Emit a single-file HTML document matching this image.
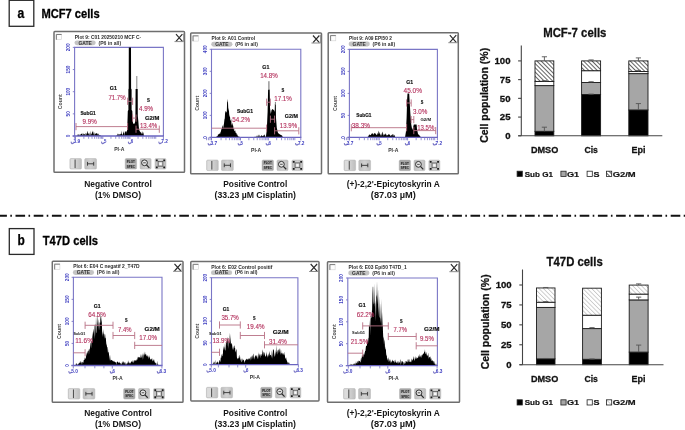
<!DOCTYPE html>
<html><head><meta charset="utf-8"><style>
html,body{margin:0;padding:0;background:#fff;}
svg{display:block;font-family:"Liberation Sans", sans-serif;filter:blur(0.3px);}
</style></head><body>
<svg width="685" height="430" viewBox="0 0 685 430">
<defs><linearGradient id="btng" x1="0" y1="0" x2="1" y2="0"><stop offset="0" stop-color="#bdbdbd"/><stop offset="0.5" stop-color="#d2d2d2"/><stop offset="1" stop-color="#bdbdbd"/></linearGradient></defs>
<rect width="685" height="430" fill="#fff"/>
<rect x="9.2" y="0.3" width="24.6" height="26.0" fill="none" stroke="#2a2a2a" stroke-width="1.3"/>
<text x="17.50" y="17.50" font-size="13.8" font-weight="bold" fill="#000" text-anchor="start" textLength="6.8" lengthAdjust="spacingAndGlyphs" stroke="#000" stroke-width="0.25">a</text>
<text x="41.40" y="17.80" font-size="12.4" font-weight="bold" fill="#000" text-anchor="start" textLength="58.2" lengthAdjust="spacingAndGlyphs" stroke="#000" stroke-width="0.3">MCF7 cells</text>
<rect x="9.3" y="228.6" width="24.7" height="25.8" fill="none" stroke="#2a2a2a" stroke-width="1.3"/>
<text x="17.40" y="245.20" font-size="13.8" font-weight="bold" fill="#000" text-anchor="start" textLength="7.3" lengthAdjust="spacingAndGlyphs" stroke="#000" stroke-width="0.25">b</text>
<text x="42.80" y="245.00" font-size="12.4" font-weight="bold" fill="#000" text-anchor="start" textLength="55.2" lengthAdjust="spacingAndGlyphs" stroke="#000" stroke-width="0.3">T47D cells</text>
<line x1="-2.7" y1="215.7" x2="690" y2="215.7" stroke="#111" stroke-width="1.9" stroke-dasharray="9.6 3.4 1.6 3.6"/>
<rect x="54.0" y="31.6" width="130.50" height="140.60" rx="0.8" fill="#fff" stroke="#6e6e6e" stroke-width="1.5"/>
<rect x="56.0" y="34.1" width="5.6" height="5.6" fill="#fdfdfd" stroke="#d0d0d0" stroke-width="0.6"/>
<path d="M56.4 39.7V34.5H61.6" fill="none" stroke="#707070" stroke-width="0.9"/>
<path d="M176.0 34.1L182.4 41.3M182.4 34.1L176.0 41.3" stroke="#2a2a2a" stroke-width="1.15"/>
<path d="M174.5 41.6H183.7V33.5" fill="none" stroke="#8a8a8a" stroke-width="1.0"/>
<text x="74.80" y="38.70" font-size="5.2" font-weight="bold" fill="#2a2a2a" text-anchor="start" textLength="66.4" lengthAdjust="spacingAndGlyphs" >Plot 9: C01 20250210 MCF C-</text>
<rect x="74.5" y="40.400000000000006" width="21.2" height="4.9" rx="2.45" fill="#c4c4c4"/>
<text x="85.10" y="44.60" font-size="4.7" font-weight="bold" fill="#333" text-anchor="middle" textLength="13.4" lengthAdjust="spacingAndGlyphs" >GATE</text>
<text x="98.50" y="44.60" font-size="4.7" font-weight="bold" fill="#333" text-anchor="start" textLength="22.6" lengthAdjust="spacingAndGlyphs" >(P6 in all)</text>
<text transform="translate(62.4,101.7) rotate(-90)" font-size="4.6" font-weight="bold" fill="#444" text-anchor="middle" textLength="15" lengthAdjust="spacingAndGlyphs">Count</text>
<path d="M74.6 136.0V47.4H163.4V136.0" fill="none" stroke="#7a76c6" stroke-width="1.1"/>
<polygon points="76.50,136.00 76.50,135.69 76.90,135.96 77.30,135.89 77.70,134.41 78.10,134.20 78.50,134.53 78.90,135.49 79.30,134.06 79.70,136.00 80.10,135.62 80.50,134.25 80.90,134.31 81.30,133.80 81.70,133.92 82.10,132.86 82.50,135.26 82.90,134.51 83.30,133.05 83.70,135.04 84.10,133.78 84.50,134.70 84.90,134.00 85.30,132.77 85.70,136.00 86.10,134.14 86.50,132.74 86.90,135.19 87.30,131.79 87.70,130.88 88.10,133.93 88.50,132.69 88.90,134.78 89.30,135.17 89.70,132.29 90.10,135.51 90.50,130.50 90.90,136.00 91.30,133.16 91.70,134.54 92.10,131.52 92.50,132.74 92.90,130.58 93.30,132.32 93.70,135.08 94.10,131.78 94.50,136.00 94.90,133.56 95.30,133.37 95.70,134.56 96.10,133.25 96.50,133.15 96.90,133.18 97.30,135.09 97.70,132.97 98.10,134.61 98.50,133.35 98.90,135.85 99.30,135.13 99.70,134.87 100.10,135.50 100.50,135.41 100.90,135.35 101.00,136.00" fill="#000"/>
<polygon points="116.00,136.00 116.00,135.91 116.40,135.39 116.80,135.40 117.20,135.03 117.60,134.26 118.00,133.16 118.40,135.25 118.80,134.04 119.20,134.56 119.60,134.12 120.00,135.29 120.40,133.58 120.80,134.16 121.20,133.90 121.60,130.38 122.00,134.50 122.40,133.90 122.80,136.00 123.20,132.31 123.60,132.68 124.00,130.56 124.40,136.00 124.80,133.03 125.20,131.98 125.60,131.03 126.00,131.73 126.40,131.08 126.80,132.30 127.20,136.00" fill="#000"/>
<polygon points="126.6,136.0 127.2,128 127.6,118 127.8,111 128.4,110 128.4,89.5 128.7,88.5 128.8,47.4 131.0,47.4 131.1,88.5 131.6,89.5 131.6,110 132.3,111 132.6,118 133,123 134,124.2 135,122.5 135.4,116 135.6,89 137.7,89 137.8,116 138.3,121 138.8,127 139.5,131 141,133 142.5,136.0" fill="#000"/>
<rect x="136.1" y="76" width="1.3" height="13" fill="#a0a0a0"/>
<polygon points="138.00,136.00 138.00,135.89 138.40,133.62 138.80,132.83 139.20,130.52 139.60,131.91 140.00,132.01 140.40,131.84 140.80,135.87 141.20,132.53 141.60,135.29 142.00,130.88 142.40,132.30 142.80,134.31 143.20,132.12 143.60,134.11 144.00,136.00" fill="#000"/>
<line x1="72.6" y1="136.0" x2="163.9" y2="136.0" stroke="#6a64c0" stroke-width="1.3"/>
<line x1="72.8" y1="47.40" x2="74.6" y2="47.40" stroke="#7a76c6" stroke-width="0.9"/>
<text transform="translate(70.19999999999999,47.40) rotate(-90)" font-size="4.6" font-weight="bold" fill="#3c3cc0" text-anchor="middle" textLength="7.800000000000001" lengthAdjust="spacingAndGlyphs">200</text>
<line x1="72.8" y1="69.55" x2="74.6" y2="69.55" stroke="#7a76c6" stroke-width="0.9"/>
<text transform="translate(70.19999999999999,69.55) rotate(-90)" font-size="4.6" font-weight="bold" fill="#3c3cc0" text-anchor="middle" textLength="7.800000000000001" lengthAdjust="spacingAndGlyphs">150</text>
<line x1="72.8" y1="91.70" x2="74.6" y2="91.70" stroke="#7a76c6" stroke-width="0.9"/>
<text transform="translate(70.19999999999999,91.70) rotate(-90)" font-size="4.6" font-weight="bold" fill="#3c3cc0" text-anchor="middle" textLength="7.800000000000001" lengthAdjust="spacingAndGlyphs">100</text>
<line x1="72.8" y1="113.85" x2="74.6" y2="113.85" stroke="#7a76c6" stroke-width="0.9"/>
<text transform="translate(70.19999999999999,113.85) rotate(-90)" font-size="4.6" font-weight="bold" fill="#3c3cc0" text-anchor="middle" textLength="5.2" lengthAdjust="spacingAndGlyphs">50</text>
<line x1="72.8" y1="136.00" x2="74.6" y2="136.00" stroke="#7a76c6" stroke-width="0.9"/>
<text transform="translate(70.19999999999999,136.00) rotate(-90)" font-size="4.6" font-weight="bold" fill="#3c3cc0" text-anchor="middle" textLength="2.6" lengthAdjust="spacingAndGlyphs">0</text>
<line x1="74.46" y1="136.0" x2="74.46" y2="138.8" stroke="#7a76c6" stroke-width="0.8"/>
<line x1="83.86" y1="136.0" x2="83.86" y2="138.8" stroke="#7a76c6" stroke-width="0.8"/>
<line x1="88.63" y1="136.0" x2="88.63" y2="138.8" stroke="#7a76c6" stroke-width="0.8"/>
<line x1="92.02" y1="136.0" x2="92.02" y2="138.8" stroke="#7a76c6" stroke-width="0.8"/>
<line x1="94.64" y1="136.0" x2="94.64" y2="138.8" stroke="#7a76c6" stroke-width="0.8"/>
<line x1="96.79" y1="136.0" x2="96.79" y2="138.8" stroke="#7a76c6" stroke-width="0.8"/>
<line x1="98.60" y1="136.0" x2="98.60" y2="138.8" stroke="#7a76c6" stroke-width="0.8"/>
<line x1="100.17" y1="136.0" x2="100.17" y2="138.8" stroke="#7a76c6" stroke-width="0.8"/>
<line x1="101.56" y1="136.0" x2="101.56" y2="138.8" stroke="#7a76c6" stroke-width="0.8"/>
<line x1="110.96" y1="136.0" x2="110.96" y2="138.8" stroke="#7a76c6" stroke-width="0.8"/>
<line x1="115.73" y1="136.0" x2="115.73" y2="138.8" stroke="#7a76c6" stroke-width="0.8"/>
<line x1="119.12" y1="136.0" x2="119.12" y2="138.8" stroke="#7a76c6" stroke-width="0.8"/>
<line x1="121.74" y1="136.0" x2="121.74" y2="138.8" stroke="#7a76c6" stroke-width="0.8"/>
<line x1="123.89" y1="136.0" x2="123.89" y2="138.8" stroke="#7a76c6" stroke-width="0.8"/>
<line x1="125.70" y1="136.0" x2="125.70" y2="138.8" stroke="#7a76c6" stroke-width="0.8"/>
<line x1="127.27" y1="136.0" x2="127.27" y2="138.8" stroke="#7a76c6" stroke-width="0.8"/>
<line x1="128.66" y1="136.0" x2="128.66" y2="138.8" stroke="#7a76c6" stroke-width="0.8"/>
<line x1="138.06" y1="136.0" x2="138.06" y2="138.8" stroke="#7a76c6" stroke-width="0.8"/>
<line x1="142.83" y1="136.0" x2="142.83" y2="138.8" stroke="#7a76c6" stroke-width="0.8"/>
<line x1="146.22" y1="136.0" x2="146.22" y2="138.8" stroke="#7a76c6" stroke-width="0.8"/>
<line x1="148.84" y1="136.0" x2="148.84" y2="138.8" stroke="#7a76c6" stroke-width="0.8"/>
<line x1="150.99" y1="136.0" x2="150.99" y2="138.8" stroke="#7a76c6" stroke-width="0.8"/>
<line x1="152.80" y1="136.0" x2="152.80" y2="138.8" stroke="#7a76c6" stroke-width="0.8"/>
<line x1="154.37" y1="136.0" x2="154.37" y2="138.8" stroke="#7a76c6" stroke-width="0.8"/>
<line x1="155.76" y1="136.0" x2="155.76" y2="138.8" stroke="#7a76c6" stroke-width="0.8"/>
<line x1="75.5" y1="136.0" x2="75.5" y2="139.0" stroke="#7a76c6" stroke-width="0.9"/>
<path d="M71.19999999999999 142.2q0.3 2.4 2.6 0.6" fill="none" stroke="#7a76c6" stroke-width="1.2" stroke-linecap="round"/>
<text x="73.50" y="143.40" font-size="4.8" font-weight="bold" fill="#3c3cc0" text-anchor="start" textLength="6.6" lengthAdjust="spacingAndGlyphs" >3.9</text>
<line x1="102.8" y1="136.0" x2="102.8" y2="139.0" stroke="#7a76c6" stroke-width="0.9"/>
<path d="M101.6 142.2q0.3 2.4 2.6 0.6" fill="none" stroke="#7a76c6" stroke-width="1.2" stroke-linecap="round"/>
<text x="103.90" y="143.40" font-size="4.8" font-weight="bold" fill="#3c3cc0" text-anchor="start" textLength="2.4" lengthAdjust="spacingAndGlyphs" >5</text>
<line x1="129.9" y1="136.0" x2="129.9" y2="139.0" stroke="#7a76c6" stroke-width="0.9"/>
<path d="M128.4 142.2q0.3 2.4 2.6 0.6" fill="none" stroke="#7a76c6" stroke-width="1.2" stroke-linecap="round"/>
<text x="130.70" y="143.40" font-size="4.8" font-weight="bold" fill="#3c3cc0" text-anchor="start" textLength="2.4" lengthAdjust="spacingAndGlyphs" >6</text>
<line x1="163.4" y1="136.0" x2="163.4" y2="139.0" stroke="#7a76c6" stroke-width="0.9"/>
<path d="M158.9 142.2q0.3 2.4 2.6 0.6" fill="none" stroke="#7a76c6" stroke-width="1.2" stroke-linecap="round"/>
<text x="161.20" y="143.40" font-size="4.8" font-weight="bold" fill="#3c3cc0" text-anchor="start" textLength="6.6" lengthAdjust="spacingAndGlyphs" >7.2</text>
<text x="119.30" y="150.60" font-size="4.6" font-weight="bold" fill="#333" text-anchor="middle" textLength="10.2" lengthAdjust="spacingAndGlyphs" >PI-A</text>
<line x1="76" y1="126.6" x2="127.6" y2="126.6" stroke="#b87084" stroke-width="0.9"/>
<line x1="76" y1="123.0" x2="76" y2="130.2" stroke="#b87084" stroke-width="0.9"/>
<line x1="127.6" y1="123.0" x2="127.6" y2="130.2" stroke="#b87084" stroke-width="0.9"/>
<line x1="127.6" y1="101.3" x2="132.6" y2="101.3" stroke="#b87084" stroke-width="0.9"/>
<line x1="127.6" y1="97.7" x2="127.6" y2="104.89999999999999" stroke="#b87084" stroke-width="0.9"/>
<line x1="132.6" y1="97.7" x2="132.6" y2="104.89999999999999" stroke="#b87084" stroke-width="0.9"/>
<line x1="132.6" y1="118.1" x2="136.0" y2="118.1" stroke="#b87084" stroke-width="0.9"/>
<line x1="132.6" y1="114.5" x2="132.6" y2="121.69999999999999" stroke="#b87084" stroke-width="0.9"/>
<line x1="136.0" y1="114.5" x2="136.0" y2="121.69999999999999" stroke="#b87084" stroke-width="0.9"/>
<line x1="136.0" y1="129.2" x2="159.3" y2="129.2" stroke="#b87084" stroke-width="0.9"/>
<line x1="136.0" y1="125.6" x2="136.0" y2="132.79999999999998" stroke="#b87084" stroke-width="0.9"/>
<line x1="159.3" y1="125.6" x2="159.3" y2="132.79999999999998" stroke="#b87084" stroke-width="0.9"/>
<text x="80.40" y="115.00" font-size="5.0" font-weight="bold" fill="#111" text-anchor="start" textLength="15.4" lengthAdjust="spacingAndGlyphs" stroke="#111" stroke-width="0.15">SubG1</text>
<text x="82.60" y="124.00" font-size="6.4" font-weight="normal" fill="#b3305c" text-anchor="start" textLength="14.2" lengthAdjust="spacingAndGlyphs" stroke="#b3305c" stroke-width="0.12">9.9%</text>
<text x="109.80" y="89.90" font-size="5.0" font-weight="bold" fill="#111" text-anchor="start" textLength="7.1" lengthAdjust="spacingAndGlyphs" stroke="#111" stroke-width="0.15">G1</text>
<text x="108.40" y="99.60" font-size="6.4" font-weight="normal" fill="#b3305c" text-anchor="start" textLength="17.3" lengthAdjust="spacingAndGlyphs" stroke="#b3305c" stroke-width="0.12">71.7%</text>
<text x="147.10" y="101.80" font-size="5.0" font-weight="bold" fill="#111" text-anchor="start" textLength="2.9" lengthAdjust="spacingAndGlyphs" stroke="#111" stroke-width="0.15">S</text>
<text x="139.00" y="110.80" font-size="6.4" font-weight="normal" fill="#b3305c" text-anchor="start" textLength="14.1" lengthAdjust="spacingAndGlyphs" stroke="#b3305c" stroke-width="0.12">4.9%</text>
<text x="145.00" y="119.60" font-size="5.0" font-weight="bold" fill="#111" text-anchor="start" textLength="14.3" lengthAdjust="spacingAndGlyphs" stroke="#111" stroke-width="0.15">G2/M</text>
<text x="139.90" y="128.00" font-size="6.4" font-weight="normal" fill="#b3305c" text-anchor="start" textLength="17.4" lengthAdjust="spacingAndGlyphs" stroke="#b3305c" stroke-width="0.12">13.4%</text>
<rect x="69.9" y="158.5" width="11.6" height="10.6" rx="1.2" fill="url(#btng)" stroke="#b4b4b4" stroke-width="0.5"/><rect x="70.5" y="159.1" width="4.2" height="9.4" fill="#dcdcdc"/><line x1="75.10000000000001" y1="159.5" x2="75.10000000000001" y2="168.1" stroke="#3a3a3a" stroke-width="0.9"/>
<rect x="84.7" y="158.5" width="11.8" height="10.6" rx="1.2" fill="url(#btng)" stroke="#b4b4b4" stroke-width="0.5"/><path d="M87.5 161.9v3.8M93.7 161.9v3.8M87.5 163.8H93.7" stroke="#333" stroke-width="0.9"/>
<rect x="125.2" y="158.5" width="11.4" height="10.6" rx="1.2" fill="#a4a4a4" stroke="#b4b4b4" stroke-width="0.5"/><text x="130.90" y="163.00" font-size="3.6" font-weight="bold" fill="#1a1a1a" text-anchor="middle" textLength="8.2" lengthAdjust="spacingAndGlyphs" >PLOT</text><rect x="126.2" y="163.5" width="9.4" height="0.9" fill="#d8d8d8"/><text x="130.90" y="167.50" font-size="3.6" font-weight="bold" fill="#1a1a1a" text-anchor="middle" textLength="8.2" lengthAdjust="spacingAndGlyphs" >SPEC</text>
<rect x="140.1" y="158.5" width="11.0" height="10.6" rx="1.2" fill="url(#btng)" stroke="#b4b4b4" stroke-width="0.5"/><circle cx="144.5" cy="162.8" r="2.9" fill="#e6e6e6" stroke="#2a2a2a" stroke-width="0.95"/><line x1="146.5" y1="164.9" x2="149.29999999999998" y2="167.8" stroke="#2a2a2a" stroke-width="1.2"/><line x1="143.2" y1="162.8" x2="145.79999999999998" y2="162.8" stroke="#2a2a2a" stroke-width="0.8"/>
<rect x="155.0" y="158.5" width="11.0" height="10.6" rx="1.2" fill="url(#btng)" stroke="#b4b4b4" stroke-width="0.5"/><rect x="158.1" y="161.4" width="4.8" height="4.8" fill="#c8c8c8" stroke="#4a4a4a" stroke-width="0.7"/><rect x="159.3" y="162.6" width="2.4000000000000004" height="2.4000000000000004" fill="#fafafa"/><path d="M155.9 159.4h1.8v1.8h-1.8zM163.3 159.4h1.8v1.8h-1.8zM155.9 166.4h1.8v1.8h-1.8zM163.3 166.4h1.8v1.8h-1.8z" fill="#1a1a1a"/>
<rect x="190.7" y="33.0" width="130.80" height="140.70" rx="0.8" fill="#fff" stroke="#6e6e6e" stroke-width="1.5"/>
<rect x="192.70459770114942" y="35.50177809388336" width="5.6" height="5.6" fill="#fdfdfd" stroke="#d0d0d0" stroke-width="0.6"/>
<path d="M193.10459770114943 41.10177809388336V35.90177809388336H198.30459770114942" fill="none" stroke="#707070" stroke-width="0.9"/>
<path d="M312.97701149425285 35.5L319.3770114942528 42.699999999999996M319.3770114942528 35.5L312.97701149425285 42.699999999999996" stroke="#2a2a2a" stroke-width="1.15"/>
<path d="M311.47701149425285 43.0H320.67701149425284V34.9" fill="none" stroke="#8a8a8a" stroke-width="1.0"/>
<text x="211.55" y="40.11" font-size="5.2" font-weight="bold" fill="#2a2a2a" text-anchor="start" textLength="43.5" lengthAdjust="spacingAndGlyphs" >Plot 9: A01 Control</text>
<rect x="211.2471264367816" y="41.806258890469415" width="21.2" height="4.9" rx="2.45" fill="#c4c4c4"/>
<text x="221.85" y="46.01" font-size="4.7" font-weight="bold" fill="#333" text-anchor="middle" textLength="13.4" lengthAdjust="spacingAndGlyphs" >GATE</text>
<text x="235.25" y="46.01" font-size="4.7" font-weight="bold" fill="#333" text-anchor="start" textLength="22.6" lengthAdjust="spacingAndGlyphs" >(P6 in all)</text>
<text transform="translate(199.11931034482757,103.35) rotate(-90)" font-size="4.6" font-weight="bold" fill="#444" text-anchor="middle" textLength="15" lengthAdjust="spacingAndGlyphs">Count</text>
<path d="M211.5 137.4V49.3H300.8V137.4" fill="none" stroke="#7a76c6" stroke-width="1.1"/>
<polygon points="216.00,137.40 216.00,137.40 216.40,136.11 216.80,137.07 217.20,135.93 217.60,136.37 218.00,134.24 218.40,134.78 218.80,134.00 219.20,133.87 219.60,133.13 220.00,134.28 220.40,132.59 220.80,131.64 221.20,130.02 221.60,128.81 222.00,128.32 222.40,125.09 222.80,126.46 223.20,128.08 223.60,125.48 224.00,123.47 224.40,119.86 224.80,118.34 225.20,111.03 225.60,111.23 226.00,112.89 226.40,111.24 226.80,112.42 227.20,98.76 227.60,101.61 228.00,102.44 228.40,111.36 228.80,107.87 229.20,114.23 229.60,116.61 230.00,116.73 230.40,120.82 230.80,120.60 231.20,118.82 231.60,125.81 232.00,123.42 232.40,123.33 232.80,125.19 233.20,125.72 233.60,129.78 234.00,127.96 234.40,130.97 234.80,131.34 235.20,130.21 235.60,132.86 236.00,132.76 236.40,133.10 236.80,134.76 237.20,134.27 237.60,135.55 238.00,136.24 238.40,136.07 238.80,137.32 239.20,136.20 239.50,137.40" fill="#000"/>
<polygon points="254.00,137.40 254.00,137.40 254.40,136.96 254.80,136.74 255.20,136.74 255.60,136.67 256.00,137.14 256.40,135.21 256.80,137.40 257.20,136.22 257.60,137.08 258.00,134.56 258.40,137.40 258.80,134.65 259.20,134.63 259.60,136.36 260.00,137.40 260.40,135.68 260.80,136.43 261.20,135.38 261.60,135.32 262.00,135.53 262.40,136.18 262.80,136.08 263.20,135.55 263.60,135.37 264.00,136.26 264.40,134.34 264.80,134.98 265.20,135.91 265.60,137.15 266.00,136.96 266.00,137.40" fill="#000"/>
<polygon points="265.8,137.4 266.8,130 267.6,112 268.1,89.6 269.7,89.6 270.0,108 270.8,114 271.6,110 272.6,109 274.2,110.5 274.7,112 274.9,104 275.8,104 276.0,118 276.8,128 278,133 280,134.5 282,135.6 283,137.4" fill="#000"/>
<rect x="268.3" y="81.2" width="1.2" height="8.6" fill="#808080"/>
<rect x="274.9" y="101.9" width="1.0" height="3" fill="#808080"/>
<line x1="209.5" y1="137.4" x2="301.3" y2="137.4" stroke="#6a64c0" stroke-width="1.3"/>
<line x1="209.7" y1="49.30" x2="211.5" y2="49.30" stroke="#7a76c6" stroke-width="0.9"/>
<text transform="translate(207.1,49.30) rotate(-90)" font-size="4.6" font-weight="bold" fill="#3c3cc0" text-anchor="middle" textLength="7.800000000000001" lengthAdjust="spacingAndGlyphs">400</text>
<line x1="209.7" y1="71.33" x2="211.5" y2="71.33" stroke="#7a76c6" stroke-width="0.9"/>
<text transform="translate(207.1,71.33) rotate(-90)" font-size="4.6" font-weight="bold" fill="#3c3cc0" text-anchor="middle" textLength="7.800000000000001" lengthAdjust="spacingAndGlyphs">300</text>
<line x1="209.7" y1="93.35" x2="211.5" y2="93.35" stroke="#7a76c6" stroke-width="0.9"/>
<text transform="translate(207.1,93.35) rotate(-90)" font-size="4.6" font-weight="bold" fill="#3c3cc0" text-anchor="middle" textLength="7.800000000000001" lengthAdjust="spacingAndGlyphs">200</text>
<line x1="209.7" y1="115.38" x2="211.5" y2="115.38" stroke="#7a76c6" stroke-width="0.9"/>
<text transform="translate(207.1,115.38) rotate(-90)" font-size="4.6" font-weight="bold" fill="#3c3cc0" text-anchor="middle" textLength="7.800000000000001" lengthAdjust="spacingAndGlyphs">100</text>
<line x1="209.7" y1="137.40" x2="211.5" y2="137.40" stroke="#7a76c6" stroke-width="0.9"/>
<text transform="translate(207.1,137.40) rotate(-90)" font-size="4.6" font-weight="bold" fill="#3c3cc0" text-anchor="middle" textLength="2.6" lengthAdjust="spacingAndGlyphs">0</text>
<line x1="206.53" y1="137.4" x2="206.53" y2="140.20000000000002" stroke="#7a76c6" stroke-width="0.8"/>
<line x1="208.39" y1="137.4" x2="208.39" y2="140.20000000000002" stroke="#7a76c6" stroke-width="0.8"/>
<line x1="210.01" y1="137.4" x2="210.01" y2="140.20000000000002" stroke="#7a76c6" stroke-width="0.8"/>
<line x1="211.43" y1="137.4" x2="211.43" y2="140.20000000000002" stroke="#7a76c6" stroke-width="0.8"/>
<line x1="221.07" y1="137.4" x2="221.07" y2="140.20000000000002" stroke="#7a76c6" stroke-width="0.8"/>
<line x1="225.96" y1="137.4" x2="225.96" y2="140.20000000000002" stroke="#7a76c6" stroke-width="0.8"/>
<line x1="229.44" y1="137.4" x2="229.44" y2="140.20000000000002" stroke="#7a76c6" stroke-width="0.8"/>
<line x1="232.13" y1="137.4" x2="232.13" y2="140.20000000000002" stroke="#7a76c6" stroke-width="0.8"/>
<line x1="234.33" y1="137.4" x2="234.33" y2="140.20000000000002" stroke="#7a76c6" stroke-width="0.8"/>
<line x1="236.19" y1="137.4" x2="236.19" y2="140.20000000000002" stroke="#7a76c6" stroke-width="0.8"/>
<line x1="237.81" y1="137.4" x2="237.81" y2="140.20000000000002" stroke="#7a76c6" stroke-width="0.8"/>
<line x1="239.23" y1="137.4" x2="239.23" y2="140.20000000000002" stroke="#7a76c6" stroke-width="0.8"/>
<line x1="248.87" y1="137.4" x2="248.87" y2="140.20000000000002" stroke="#7a76c6" stroke-width="0.8"/>
<line x1="253.76" y1="137.4" x2="253.76" y2="140.20000000000002" stroke="#7a76c6" stroke-width="0.8"/>
<line x1="257.24" y1="137.4" x2="257.24" y2="140.20000000000002" stroke="#7a76c6" stroke-width="0.8"/>
<line x1="259.93" y1="137.4" x2="259.93" y2="140.20000000000002" stroke="#7a76c6" stroke-width="0.8"/>
<line x1="262.13" y1="137.4" x2="262.13" y2="140.20000000000002" stroke="#7a76c6" stroke-width="0.8"/>
<line x1="263.99" y1="137.4" x2="263.99" y2="140.20000000000002" stroke="#7a76c6" stroke-width="0.8"/>
<line x1="265.61" y1="137.4" x2="265.61" y2="140.20000000000002" stroke="#7a76c6" stroke-width="0.8"/>
<line x1="267.03" y1="137.4" x2="267.03" y2="140.20000000000002" stroke="#7a76c6" stroke-width="0.8"/>
<line x1="276.67" y1="137.4" x2="276.67" y2="140.20000000000002" stroke="#7a76c6" stroke-width="0.8"/>
<line x1="281.56" y1="137.4" x2="281.56" y2="140.20000000000002" stroke="#7a76c6" stroke-width="0.8"/>
<line x1="285.04" y1="137.4" x2="285.04" y2="140.20000000000002" stroke="#7a76c6" stroke-width="0.8"/>
<line x1="287.73" y1="137.4" x2="287.73" y2="140.20000000000002" stroke="#7a76c6" stroke-width="0.8"/>
<line x1="289.93" y1="137.4" x2="289.93" y2="140.20000000000002" stroke="#7a76c6" stroke-width="0.8"/>
<line x1="291.79" y1="137.4" x2="291.79" y2="140.20000000000002" stroke="#7a76c6" stroke-width="0.8"/>
<line x1="293.41" y1="137.4" x2="293.41" y2="140.20000000000002" stroke="#7a76c6" stroke-width="0.8"/>
<line x1="294.83" y1="137.4" x2="294.83" y2="140.20000000000002" stroke="#7a76c6" stroke-width="0.8"/>
<line x1="211.5" y1="137.4" x2="211.5" y2="140.4" stroke="#7a76c6" stroke-width="0.9"/>
<path d="M208.2 143.6q0.3 2.4 2.6 0.6" fill="none" stroke="#7a76c6" stroke-width="1.2" stroke-linecap="round"/>
<text x="210.50" y="144.80" font-size="4.8" font-weight="bold" fill="#3c3cc0" text-anchor="start" textLength="6.6" lengthAdjust="spacingAndGlyphs" >3.7</text>
<line x1="240.5" y1="137.4" x2="240.5" y2="140.4" stroke="#7a76c6" stroke-width="0.9"/>
<path d="M238.2 143.6q0.3 2.4 2.6 0.6" fill="none" stroke="#7a76c6" stroke-width="1.2" stroke-linecap="round"/>
<text x="240.50" y="144.80" font-size="4.8" font-weight="bold" fill="#3c3cc0" text-anchor="start" textLength="2.4" lengthAdjust="spacingAndGlyphs" >5</text>
<line x1="268.3" y1="137.4" x2="268.3" y2="140.4" stroke="#7a76c6" stroke-width="0.9"/>
<path d="M266.20000000000005 143.6q0.3 2.4 2.6 0.6" fill="none" stroke="#7a76c6" stroke-width="1.2" stroke-linecap="round"/>
<text x="268.50" y="144.80" font-size="4.8" font-weight="bold" fill="#3c3cc0" text-anchor="start" textLength="2.4" lengthAdjust="spacingAndGlyphs" >6</text>
<line x1="300.8" y1="137.4" x2="300.8" y2="140.4" stroke="#7a76c6" stroke-width="0.9"/>
<path d="M295.6 143.6q0.3 2.4 2.6 0.6" fill="none" stroke="#7a76c6" stroke-width="1.2" stroke-linecap="round"/>
<text x="297.90" y="144.80" font-size="4.8" font-weight="bold" fill="#3c3cc0" text-anchor="start" textLength="6.6" lengthAdjust="spacingAndGlyphs" >7.2</text>
<text x="256.15" y="152.00" font-size="4.6" font-weight="bold" fill="#333" text-anchor="middle" textLength="10.2" lengthAdjust="spacingAndGlyphs" >PI-A</text>
<line x1="211.5" y1="128.2" x2="266.6" y2="128.2" stroke="#b87084" stroke-width="0.9"/>
<line x1="266.6" y1="124.6" x2="266.6" y2="131.79999999999998" stroke="#b87084" stroke-width="0.9"/>
<line x1="266.6" y1="102.2" x2="270.4" y2="102.2" stroke="#b87084" stroke-width="0.9"/>
<line x1="266.6" y1="98.60000000000001" x2="266.6" y2="105.8" stroke="#b87084" stroke-width="0.9"/>
<line x1="270.4" y1="98.60000000000001" x2="270.4" y2="105.8" stroke="#b87084" stroke-width="0.9"/>
<line x1="270.4" y1="119.2" x2="274.6" y2="119.2" stroke="#b87084" stroke-width="0.9"/>
<line x1="270.4" y1="115.60000000000001" x2="270.4" y2="122.8" stroke="#b87084" stroke-width="0.9"/>
<line x1="274.6" y1="115.60000000000001" x2="274.6" y2="122.8" stroke="#b87084" stroke-width="0.9"/>
<line x1="274.6" y1="130.8" x2="298.8" y2="130.8" stroke="#b87084" stroke-width="0.9"/>
<line x1="274.6" y1="127.20000000000002" x2="274.6" y2="134.4" stroke="#b87084" stroke-width="0.9"/>
<line x1="298.8" y1="127.20000000000002" x2="298.8" y2="134.4" stroke="#b87084" stroke-width="0.9"/>
<text x="237.00" y="112.60" font-size="5.0" font-weight="bold" fill="#111" text-anchor="start" textLength="16" lengthAdjust="spacingAndGlyphs" stroke="#111" stroke-width="0.15">SubG1</text>
<text x="232.20" y="122.20" font-size="6.4" font-weight="normal" fill="#b3305c" text-anchor="start" textLength="17.8" lengthAdjust="spacingAndGlyphs" stroke="#b3305c" stroke-width="0.12">54.2%</text>
<text x="262.30" y="69.20" font-size="5.0" font-weight="bold" fill="#111" text-anchor="start" textLength="7" lengthAdjust="spacingAndGlyphs" stroke="#111" stroke-width="0.15">G1</text>
<text x="260.20" y="78.30" font-size="6.4" font-weight="normal" fill="#b3305c" text-anchor="start" textLength="17.5" lengthAdjust="spacingAndGlyphs" stroke="#b3305c" stroke-width="0.12">14.8%</text>
<text x="281.50" y="91.80" font-size="5.0" font-weight="bold" fill="#111" text-anchor="start" textLength="2.8" lengthAdjust="spacingAndGlyphs" stroke="#111" stroke-width="0.15">S</text>
<text x="274.20" y="101.00" font-size="6.4" font-weight="normal" fill="#b3305c" text-anchor="start" textLength="17.7" lengthAdjust="spacingAndGlyphs" stroke="#b3305c" stroke-width="0.12">17.1%</text>
<text x="284.80" y="117.80" font-size="5.0" font-weight="bold" fill="#111" text-anchor="start" textLength="13.1" lengthAdjust="spacingAndGlyphs" stroke="#111" stroke-width="0.15">G2/M</text>
<text x="279.80" y="127.70" font-size="6.4" font-weight="normal" fill="#b3305c" text-anchor="start" textLength="17.3" lengthAdjust="spacingAndGlyphs" stroke="#b3305c" stroke-width="0.12">13.9%</text>
<rect x="206.63655172413792" y="159.99025604551917" width="11.626666666666669" height="10.6" rx="1.2" fill="url(#btng)" stroke="#b4b4b4" stroke-width="0.5"/><rect x="207.2365517241379" y="160.59025604551917" width="4.2" height="9.4" fill="#dcdcdc"/><line x1="211.8365517241379" y1="160.99025604551917" x2="211.8365517241379" y2="169.59025604551917" stroke="#3a3a3a" stroke-width="0.9"/>
<rect x="221.47057471264367" y="159.99025604551917" width="11.827126436781612" height="10.6" rx="1.2" fill="url(#btng)" stroke="#b4b4b4" stroke-width="0.5"/><path d="M224.27057471264368 163.39025604551918v3.8M230.47057471264367 163.39025604551918v3.8M224.27057471264368 165.2902560455192H230.47057471264367" stroke="#333" stroke-width="0.9"/>
<rect x="262.06367816091955" y="159.99025604551917" width="11.426206896551726" height="10.6" rx="1.2" fill="#a4a4a4" stroke="#b4b4b4" stroke-width="0.5"/><text x="267.78" y="164.49" font-size="3.6" font-weight="bold" fill="#1a1a1a" text-anchor="middle" textLength="8.2" lengthAdjust="spacingAndGlyphs" >PLOT</text><rect x="263.06367816091955" y="164.99025604551917" width="9.426206896551726" height="0.9" fill="#d8d8d8"/><text x="267.78" y="168.99" font-size="3.6" font-weight="bold" fill="#1a1a1a" text-anchor="middle" textLength="8.2" lengthAdjust="spacingAndGlyphs" >SPEC</text>
<rect x="276.99793103448275" y="159.99025604551917" width="11.02528735632184" height="10.6" rx="1.2" fill="url(#btng)" stroke="#b4b4b4" stroke-width="0.5"/><circle cx="281.3979310344827" cy="164.2902560455192" r="2.9" fill="#e6e6e6" stroke="#2a2a2a" stroke-width="0.95"/><line x1="283.3979310344827" y1="166.39025604551918" x2="286.19793103448274" y2="169.2902560455192" stroke="#2a2a2a" stroke-width="1.2"/><line x1="280.09793103448277" y1="164.2902560455192" x2="282.69793103448274" y2="164.2902560455192" stroke="#2a2a2a" stroke-width="0.8"/>
<rect x="291.932183908046" y="159.99025604551917" width="11.02528735632184" height="10.6" rx="1.2" fill="url(#btng)" stroke="#b4b4b4" stroke-width="0.5"/><rect x="295.032183908046" y="162.89025604551918" width="4.82528735632184" height="4.8" fill="#c8c8c8" stroke="#4a4a4a" stroke-width="0.7"/><rect x="296.232183908046" y="164.09025604551917" width="2.4252873563218404" height="2.4000000000000004" fill="#fafafa"/><path d="M292.832183908046 160.89025604551918h1.8v1.8h-1.8zM300.25747126436784 160.89025604551918h1.8v1.8h-1.8zM292.832183908046 167.89025604551918h1.8v1.8h-1.8zM300.25747126436784 167.89025604551918h1.8v1.8h-1.8z" fill="#1a1a1a"/>
<rect x="328.2" y="32.7" width="130.10" height="141.10" rx="0.8" fill="#fff" stroke="#6e6e6e" stroke-width="1.5"/>
<rect x="330.19386973180076" y="35.20889046941679" width="5.6" height="5.6" fill="#fdfdfd" stroke="#d0d0d0" stroke-width="0.6"/>
<path d="M330.59386973180074 40.80889046941679V35.608890469416785H335.7938697318008" fill="none" stroke="#707070" stroke-width="0.9"/>
<path d="M449.83065134099616 35.2L456.23065134099613 42.4M456.23065134099613 35.2L449.83065134099616 42.4" stroke="#2a2a2a" stroke-width="1.15"/>
<path d="M448.33065134099616 42.7H457.53065134099614V34.6" fill="none" stroke="#8a8a8a" stroke-width="1.0"/>
<text x="348.94" y="39.83" font-size="5.2" font-weight="bold" fill="#2a2a2a" text-anchor="start" textLength="43.0" lengthAdjust="spacingAndGlyphs" >Plot 9: A09 EPI50 2</text>
<rect x="348.6371647509578" y="41.53129445234709" width="21.2" height="4.9" rx="2.45" fill="#c4c4c4"/>
<text x="359.24" y="45.73" font-size="4.7" font-weight="bold" fill="#333" text-anchor="middle" textLength="13.4" lengthAdjust="spacingAndGlyphs" >GATE</text>
<text x="372.64" y="45.73" font-size="4.7" font-weight="bold" fill="#333" text-anchor="start" textLength="22.6" lengthAdjust="spacingAndGlyphs" >(P6 in all)</text>
<text transform="translate(336.5742528735632,103.4) rotate(-90)" font-size="4.6" font-weight="bold" fill="#444" text-anchor="middle" textLength="15" lengthAdjust="spacingAndGlyphs">Count</text>
<path d="M349.4 137.4V49.4H437.4V137.4" fill="none" stroke="#7a76c6" stroke-width="1.1"/>
<polygon points="367.00,137.40 367.00,137.40 367.40,136.39 367.80,137.40 368.20,136.40 368.60,135.84 369.00,134.73 369.40,135.35 369.80,134.04 370.20,135.22 370.60,134.89 371.00,134.68 371.40,133.93 371.80,133.58 372.20,133.61 372.60,133.10 373.00,134.27 373.40,133.41 373.80,135.25 374.20,133.25 374.60,133.29 375.00,132.86 375.40,133.68 375.80,133.76 376.20,135.22 376.60,134.37 377.00,135.04 377.40,133.96 377.80,132.65 378.20,134.21 378.60,130.49 379.00,132.00 379.40,134.23 379.80,131.70 380.20,135.63 380.60,133.43 381.00,136.12 381.40,134.92 381.80,133.40 382.20,132.55 382.60,131.39 383.00,135.41 383.40,135.44 383.80,133.87 384.20,134.09 384.60,135.19 385.00,134.27 385.40,134.39 385.80,133.08 386.20,134.46 386.60,135.65 387.00,135.12 387.40,135.59 387.80,134.91 388.20,134.82 388.60,133.82 389.00,135.06 389.40,134.83 389.80,134.03 390.20,136.07 390.60,135.57 391.00,135.86 391.40,135.37 391.80,135.01 392.20,133.89 392.60,134.57 393.00,135.92 393.40,135.79 393.80,134.06 394.20,134.98 394.60,135.38 395.00,136.44 395.40,137.32 395.80,137.40 396.00,137.40" fill="#000"/>
<polygon points="405.0,137.4 405.9,132 406.6,118 407.1,100 407.5,93.6 409.2,93.6 409.8,104 410.4,114 411.2,124 412.2,130 413.2,127 413.8,124.6 416.6,124.6 417,129 418,134 420,136 421,137.4" fill="#000"/>
<line x1="347.4" y1="137.4" x2="437.9" y2="137.4" stroke="#6a64c0" stroke-width="1.3"/>
<line x1="347.59999999999997" y1="49.40" x2="349.4" y2="49.40" stroke="#7a76c6" stroke-width="0.9"/>
<text transform="translate(345.0,49.40) rotate(-90)" font-size="4.6" font-weight="bold" fill="#3c3cc0" text-anchor="middle" textLength="7.800000000000001" lengthAdjust="spacingAndGlyphs">200</text>
<line x1="347.59999999999997" y1="71.40" x2="349.4" y2="71.40" stroke="#7a76c6" stroke-width="0.9"/>
<text transform="translate(345.0,71.40) rotate(-90)" font-size="4.6" font-weight="bold" fill="#3c3cc0" text-anchor="middle" textLength="7.800000000000001" lengthAdjust="spacingAndGlyphs">150</text>
<line x1="347.59999999999997" y1="93.40" x2="349.4" y2="93.40" stroke="#7a76c6" stroke-width="0.9"/>
<text transform="translate(345.0,93.40) rotate(-90)" font-size="4.6" font-weight="bold" fill="#3c3cc0" text-anchor="middle" textLength="7.800000000000001" lengthAdjust="spacingAndGlyphs">100</text>
<line x1="347.59999999999997" y1="115.40" x2="349.4" y2="115.40" stroke="#7a76c6" stroke-width="0.9"/>
<text transform="translate(345.0,115.40) rotate(-90)" font-size="4.6" font-weight="bold" fill="#3c3cc0" text-anchor="middle" textLength="5.2" lengthAdjust="spacingAndGlyphs">50</text>
<line x1="347.59999999999997" y1="137.40" x2="349.4" y2="137.40" stroke="#7a76c6" stroke-width="0.9"/>
<text transform="translate(345.0,137.40) rotate(-90)" font-size="4.6" font-weight="bold" fill="#3c3cc0" text-anchor="middle" textLength="2.6" lengthAdjust="spacingAndGlyphs">0</text>
<line x1="344.50" y1="137.4" x2="344.50" y2="140.20000000000002" stroke="#7a76c6" stroke-width="0.8"/>
<line x1="346.40" y1="137.4" x2="346.40" y2="140.20000000000002" stroke="#7a76c6" stroke-width="0.8"/>
<line x1="348.05" y1="137.4" x2="348.05" y2="140.20000000000002" stroke="#7a76c6" stroke-width="0.8"/>
<line x1="349.50" y1="137.4" x2="349.50" y2="140.20000000000002" stroke="#7a76c6" stroke-width="0.8"/>
<line x1="359.35" y1="137.4" x2="359.35" y2="140.20000000000002" stroke="#7a76c6" stroke-width="0.8"/>
<line x1="364.35" y1="137.4" x2="364.35" y2="140.20000000000002" stroke="#7a76c6" stroke-width="0.8"/>
<line x1="367.90" y1="137.4" x2="367.90" y2="140.20000000000002" stroke="#7a76c6" stroke-width="0.8"/>
<line x1="370.65" y1="137.4" x2="370.65" y2="140.20000000000002" stroke="#7a76c6" stroke-width="0.8"/>
<line x1="372.90" y1="137.4" x2="372.90" y2="140.20000000000002" stroke="#7a76c6" stroke-width="0.8"/>
<line x1="374.80" y1="137.4" x2="374.80" y2="140.20000000000002" stroke="#7a76c6" stroke-width="0.8"/>
<line x1="376.45" y1="137.4" x2="376.45" y2="140.20000000000002" stroke="#7a76c6" stroke-width="0.8"/>
<line x1="377.90" y1="137.4" x2="377.90" y2="140.20000000000002" stroke="#7a76c6" stroke-width="0.8"/>
<line x1="387.75" y1="137.4" x2="387.75" y2="140.20000000000002" stroke="#7a76c6" stroke-width="0.8"/>
<line x1="392.75" y1="137.4" x2="392.75" y2="140.20000000000002" stroke="#7a76c6" stroke-width="0.8"/>
<line x1="396.30" y1="137.4" x2="396.30" y2="140.20000000000002" stroke="#7a76c6" stroke-width="0.8"/>
<line x1="399.05" y1="137.4" x2="399.05" y2="140.20000000000002" stroke="#7a76c6" stroke-width="0.8"/>
<line x1="401.30" y1="137.4" x2="401.30" y2="140.20000000000002" stroke="#7a76c6" stroke-width="0.8"/>
<line x1="403.20" y1="137.4" x2="403.20" y2="140.20000000000002" stroke="#7a76c6" stroke-width="0.8"/>
<line x1="404.85" y1="137.4" x2="404.85" y2="140.20000000000002" stroke="#7a76c6" stroke-width="0.8"/>
<line x1="406.30" y1="137.4" x2="406.30" y2="140.20000000000002" stroke="#7a76c6" stroke-width="0.8"/>
<line x1="416.15" y1="137.4" x2="416.15" y2="140.20000000000002" stroke="#7a76c6" stroke-width="0.8"/>
<line x1="421.15" y1="137.4" x2="421.15" y2="140.20000000000002" stroke="#7a76c6" stroke-width="0.8"/>
<line x1="424.70" y1="137.4" x2="424.70" y2="140.20000000000002" stroke="#7a76c6" stroke-width="0.8"/>
<line x1="427.45" y1="137.4" x2="427.45" y2="140.20000000000002" stroke="#7a76c6" stroke-width="0.8"/>
<line x1="429.70" y1="137.4" x2="429.70" y2="140.20000000000002" stroke="#7a76c6" stroke-width="0.8"/>
<line x1="431.60" y1="137.4" x2="431.60" y2="140.20000000000002" stroke="#7a76c6" stroke-width="0.8"/>
<line x1="433.25" y1="137.4" x2="433.25" y2="140.20000000000002" stroke="#7a76c6" stroke-width="0.8"/>
<line x1="434.70" y1="137.4" x2="434.70" y2="140.20000000000002" stroke="#7a76c6" stroke-width="0.8"/>
<line x1="349.4" y1="137.4" x2="349.4" y2="140.4" stroke="#7a76c6" stroke-width="0.9"/>
<path d="M344.40000000000003 143.6q0.3 2.4 2.6 0.6" fill="none" stroke="#7a76c6" stroke-width="1.2" stroke-linecap="round"/>
<text x="346.70" y="144.80" font-size="4.8" font-weight="bold" fill="#3c3cc0" text-anchor="start" textLength="6.6" lengthAdjust="spacingAndGlyphs" >3.7</text>
<line x1="379.2" y1="137.4" x2="379.2" y2="140.4" stroke="#7a76c6" stroke-width="0.9"/>
<path d="M377.0 143.6q0.3 2.4 2.6 0.6" fill="none" stroke="#7a76c6" stroke-width="1.2" stroke-linecap="round"/>
<text x="379.30" y="144.80" font-size="4.8" font-weight="bold" fill="#3c3cc0" text-anchor="start" textLength="2.4" lengthAdjust="spacingAndGlyphs" >5</text>
<line x1="407.6" y1="137.4" x2="407.6" y2="140.4" stroke="#7a76c6" stroke-width="0.9"/>
<path d="M405.40000000000003 143.6q0.3 2.4 2.6 0.6" fill="none" stroke="#7a76c6" stroke-width="1.2" stroke-linecap="round"/>
<text x="407.70" y="144.80" font-size="4.8" font-weight="bold" fill="#3c3cc0" text-anchor="start" textLength="2.4" lengthAdjust="spacingAndGlyphs" >6</text>
<line x1="437.4" y1="137.4" x2="437.4" y2="140.4" stroke="#7a76c6" stroke-width="0.9"/>
<path d="M433.20000000000005 143.6q0.3 2.4 2.6 0.6" fill="none" stroke="#7a76c6" stroke-width="1.2" stroke-linecap="round"/>
<text x="435.50" y="144.80" font-size="4.8" font-weight="bold" fill="#3c3cc0" text-anchor="start" textLength="6.6" lengthAdjust="spacingAndGlyphs" >7.2</text>
<text x="393.30" y="152.00" font-size="4.6" font-weight="bold" fill="#333" text-anchor="middle" textLength="10.2" lengthAdjust="spacingAndGlyphs" >PI-A</text>
<line x1="351.3" y1="127.7" x2="406.6" y2="127.7" stroke="#b87084" stroke-width="0.9"/>
<line x1="351.3" y1="124.10000000000001" x2="351.3" y2="131.3" stroke="#b87084" stroke-width="0.9"/>
<line x1="406.6" y1="124.10000000000001" x2="406.6" y2="131.3" stroke="#b87084" stroke-width="0.9"/>
<line x1="406.6" y1="103.0" x2="411.2" y2="103.0" stroke="#b87084" stroke-width="0.9"/>
<line x1="406.6" y1="99.4" x2="406.6" y2="106.6" stroke="#b87084" stroke-width="0.9"/>
<line x1="411.2" y1="99.4" x2="411.2" y2="106.6" stroke="#b87084" stroke-width="0.9"/>
<line x1="411.2" y1="119.6" x2="413.8" y2="119.6" stroke="#b87084" stroke-width="0.9"/>
<line x1="411.2" y1="116.0" x2="411.2" y2="123.19999999999999" stroke="#b87084" stroke-width="0.9"/>
<line x1="413.8" y1="116.0" x2="413.8" y2="123.19999999999999" stroke="#b87084" stroke-width="0.9"/>
<line x1="413.8" y1="130.6" x2="435.7" y2="130.6" stroke="#b87084" stroke-width="0.9"/>
<line x1="413.8" y1="127.0" x2="413.8" y2="134.2" stroke="#b87084" stroke-width="0.9"/>
<line x1="435.7" y1="127.0" x2="435.7" y2="134.2" stroke="#b87084" stroke-width="0.9"/>
<text x="356.30" y="117.20" font-size="5.0" font-weight="bold" fill="#111" text-anchor="start" textLength="15.1" lengthAdjust="spacingAndGlyphs" stroke="#111" stroke-width="0.15">SubG1</text>
<text x="351.80" y="127.70" font-size="6.4" font-weight="normal" fill="#b3305c" text-anchor="start" textLength="18.1" lengthAdjust="spacingAndGlyphs" stroke="#b3305c" stroke-width="0.12">38.3%</text>
<text x="406.20" y="83.60" font-size="5.0" font-weight="bold" fill="#111" text-anchor="start" textLength="6.8" lengthAdjust="spacingAndGlyphs" stroke="#111" stroke-width="0.15">G1</text>
<text x="403.60" y="93.40" font-size="6.4" font-weight="normal" fill="#b3305c" text-anchor="start" textLength="18.4" lengthAdjust="spacingAndGlyphs" stroke="#b3305c" stroke-width="0.12">45.0%</text>
<text x="420.80" y="104.30" font-size="5.0" font-weight="bold" fill="#111" text-anchor="start" textLength="2.6" lengthAdjust="spacingAndGlyphs" stroke="#111" stroke-width="0.15">S</text>
<text x="413.00" y="114.10" font-size="6.4" font-weight="normal" fill="#b3305c" text-anchor="start" textLength="14.3" lengthAdjust="spacingAndGlyphs" stroke="#b3305c" stroke-width="0.12">3.0%</text>
<text x="420.50" y="121.20" font-size="3.8" font-weight="bold" fill="#111" text-anchor="start" textLength="10.6" lengthAdjust="spacingAndGlyphs" >G2/M</text>
<text x="417.20" y="129.60" font-size="6.4" font-weight="normal" fill="#b3305c" text-anchor="start" textLength="17.2" lengthAdjust="spacingAndGlyphs" stroke="#b3305c" stroke-width="0.12">13.5%</text>
<rect x="344.0512643678161" y="160.05128022759607" width="11.564444444444446" height="10.6" rx="1.2" fill="url(#btng)" stroke="#b4b4b4" stroke-width="0.5"/><rect x="344.6512643678161" y="160.65128022759606" width="4.2" height="9.4" fill="#dcdcdc"/><line x1="349.2512643678161" y1="161.05128022759607" x2="349.2512643678161" y2="169.65128022759606" stroke="#3a3a3a" stroke-width="0.9"/>
<rect x="358.80590038314176" y="160.05128022759607" width="11.763831417624523" height="10.6" rx="1.2" fill="url(#btng)" stroke="#b4b4b4" stroke-width="0.5"/><path d="M361.6059003831418 163.45128022759607v3.8M367.80590038314176 163.45128022759607v3.8M361.6059003831418 165.35128022759608H367.80590038314176" stroke="#333" stroke-width="0.9"/>
<rect x="399.18176245210725" y="160.05128022759607" width="11.36505747126437" height="10.6" rx="1.2" fill="#a4a4a4" stroke="#b4b4b4" stroke-width="0.5"/><text x="404.86" y="164.55" font-size="3.6" font-weight="bold" fill="#1a1a1a" text-anchor="middle" textLength="8.2" lengthAdjust="spacingAndGlyphs" >PLOT</text><rect x="400.18176245210725" y="165.05128022759607" width="9.36505747126437" height="0.9" fill="#d8d8d8"/><text x="404.86" y="169.05" font-size="3.6" font-weight="bold" fill="#1a1a1a" text-anchor="middle" textLength="8.2" lengthAdjust="spacingAndGlyphs" >SPEC</text>
<rect x="414.036091954023" y="160.05128022759607" width="10.966283524904217" height="10.6" rx="1.2" fill="url(#btng)" stroke="#b4b4b4" stroke-width="0.5"/><circle cx="418.43609195402297" cy="164.35128022759608" r="2.9" fill="#e6e6e6" stroke="#2a2a2a" stroke-width="0.95"/><line x1="420.43609195402297" y1="166.45128022759607" x2="423.236091954023" y2="169.35128022759608" stroke="#2a2a2a" stroke-width="1.2"/><line x1="417.136091954023" y1="164.35128022759608" x2="419.736091954023" y2="164.35128022759608" stroke="#2a2a2a" stroke-width="0.8"/>
<rect x="428.8904214559387" y="160.05128022759607" width="10.966283524904217" height="10.6" rx="1.2" fill="url(#btng)" stroke="#b4b4b4" stroke-width="0.5"/><rect x="431.9904214559387" y="162.95128022759607" width="4.766283524904217" height="4.8" fill="#c8c8c8" stroke="#4a4a4a" stroke-width="0.7"/><rect x="433.1904214559387" y="164.15128022759606" width="2.366283524904217" height="2.4000000000000004" fill="#fafafa"/><path d="M429.79042145593866 160.95128022759607h1.8v1.8h-1.8zM437.1567049808429 160.95128022759607h1.8v1.8h-1.8zM429.79042145593866 167.95128022759607h1.8v1.8h-1.8zM437.1567049808429 167.95128022759607h1.8v1.8h-1.8z" fill="#1a1a1a"/>
<rect x="52.3" y="261.3" width="130.70" height="140.90" rx="0.8" fill="#fff" stroke="#6e6e6e" stroke-width="1.5"/>
<rect x="54.30306513409961" y="263.80533428165006" width="5.6" height="5.6" fill="#fdfdfd" stroke="#d0d0d0" stroke-width="0.6"/>
<path d="M54.70306513409961 269.4053342816501V264.20533428165004H59.90306513409961" fill="none" stroke="#707070" stroke-width="0.9"/>
<path d="M174.48467432950193 263.8L180.88467432950193 271.0M180.88467432950193 263.8L174.48467432950193 271.0" stroke="#2a2a2a" stroke-width="1.15"/>
<path d="M172.98467432950193 271.3H182.18467432950192V263.2" fill="none" stroke="#8a8a8a" stroke-width="1.0"/>
<text x="73.13" y="268.42" font-size="5.2" font-weight="bold" fill="#2a2a2a" text-anchor="start" textLength="66.5" lengthAdjust="spacingAndGlyphs" >Plot 6: E04 C negatif 2_T47D</text>
<rect x="72.83141762452107" y="270.1187766714083" width="21.2" height="4.9" rx="2.45" fill="#c4c4c4"/>
<text x="83.43" y="274.32" font-size="4.7" font-weight="bold" fill="#333" text-anchor="middle" textLength="13.4" lengthAdjust="spacingAndGlyphs" >GATE</text>
<text x="96.83" y="274.32" font-size="4.7" font-weight="bold" fill="#333" text-anchor="start" textLength="22.6" lengthAdjust="spacingAndGlyphs" >(P6 in all)</text>
<text transform="translate(60.71287356321839,331.4) rotate(-90)" font-size="4.6" font-weight="bold" fill="#444" text-anchor="middle" textLength="15" lengthAdjust="spacingAndGlyphs">Count</text>
<path d="M73.4 365.5V277.3H162.0V365.5" fill="none" stroke="#7a76c6" stroke-width="1.1"/>
<polygon points="75.00,365.50 75.00,363.17 75.35,365.31 75.70,365.06 76.05,364.76 76.40,363.95 76.75,362.81 77.10,364.17 77.45,364.77 77.80,364.72 78.15,364.50 78.50,363.38 78.85,363.55 79.20,363.06 79.55,363.32 79.90,361.81 80.25,361.00 80.60,362.23 80.95,363.19 81.30,361.47 81.65,363.06 82.00,364.75 82.35,361.77 82.70,362.08 83.05,362.70 83.40,362.46 83.75,360.09 84.10,359.68 84.45,360.04 84.80,357.60 85.15,357.43 85.50,358.88 85.85,358.49 86.20,355.09 86.55,352.17 86.90,355.90 87.25,350.64 87.60,353.72 87.95,351.10 88.30,351.08 88.65,348.98 89.00,354.97 89.35,349.27 89.70,349.61 90.05,347.67 90.40,342.78 90.75,343.04 91.10,348.61 91.45,341.33 91.80,340.76 92.15,342.86 92.50,331.39 92.85,337.03 93.20,328.47 93.55,330.73 93.90,332.90 94.25,339.34 94.60,326.47 94.95,324.41 95.30,324.48 95.65,336.12 96.00,316.58 96.35,333.15 96.70,332.20 97.05,312.42 97.40,319.53 97.75,327.43 98.10,318.48 98.45,330.54 98.80,319.46 99.15,330.69 99.50,323.90 99.85,321.95 100.20,322.88 100.55,312.88 100.90,318.08 101.25,322.57 101.60,315.30 101.95,325.95 102.30,335.96 102.65,331.32 103.00,337.46 103.35,329.08 103.70,332.99 104.05,334.67 104.40,333.53 104.75,339.07 105.10,333.81 105.45,338.41 105.80,337.52 106.15,342.08 106.50,345.90 106.85,343.60 107.20,353.24 107.55,346.94 107.90,347.12 108.25,352.14 108.60,351.88 108.95,353.78 109.30,360.67 109.65,356.64 110.00,354.52 110.35,358.99 110.70,360.81 111.05,359.89 111.40,360.20 111.75,359.69 112.10,360.61 112.45,360.79 112.80,360.51 113.15,362.31 113.50,360.63 113.85,360.94 114.20,360.73 114.55,362.07 114.90,361.90 115.25,362.55 115.60,362.10 115.95,362.57 116.30,364.91 116.65,362.04 117.00,362.41 117.35,360.98 117.70,362.05 118.05,361.98 118.40,363.05 118.75,362.84 119.10,361.60 119.45,362.68 119.80,362.66 120.15,362.88 120.50,363.08 120.85,364.49 121.20,364.40 121.55,363.89 121.90,362.22 122.25,363.40 122.60,361.04 122.95,362.60 123.30,362.21 123.65,360.77 124.00,364.30 124.35,362.56 124.70,361.88 125.05,364.26 125.40,361.78 125.75,364.50 126.10,365.03 126.45,363.45 126.80,363.40 127.15,363.60 127.50,363.50 127.85,361.88 128.20,360.27 128.55,363.46 128.90,361.67 129.25,362.95 129.60,363.79 129.95,362.31 130.30,363.00 130.65,363.79 131.00,361.60 131.35,361.42 131.70,361.61 132.05,361.95 132.40,362.38 132.75,359.97 133.10,361.63 133.45,363.21 133.80,360.39 134.15,360.54 134.50,359.71 134.85,361.82 135.20,359.95 135.55,361.32 135.90,359.76 136.25,361.02 136.60,359.18 136.95,359.64 137.30,359.85 137.65,356.55 138.00,358.79 138.35,356.63 138.70,357.09 139.05,357.41 139.40,357.18 139.75,357.16 140.10,357.81 140.45,353.68 140.80,358.00 141.15,357.66 141.50,356.95 141.85,354.04 142.20,359.89 142.55,353.00 142.90,355.82 143.25,353.72 143.60,359.15 143.95,352.49 144.30,355.79 144.65,353.72 145.00,351.34 145.35,355.36 145.70,353.98 146.05,354.08 146.40,355.40 146.75,355.90 147.10,356.90 147.45,355.94 147.80,354.64 148.15,357.83 148.50,355.14 148.85,359.52 149.20,354.91 149.55,357.49 149.90,357.56 150.25,359.80 150.60,359.39 150.95,358.93 151.30,359.31 151.65,359.56 152.00,357.55 152.35,360.11 152.70,361.52 153.05,360.39 153.40,360.63 153.75,359.21 154.10,359.61 154.45,361.43 154.80,362.02 155.15,363.80 155.50,362.29 155.85,362.89 156.20,362.65 156.55,365.10 156.90,365.48 157.25,360.56 157.60,364.52 157.95,364.70 158.30,365.50 158.65,364.32 159.00,365.50 159.35,365.50 159.70,365.50 160.00,365.50" fill="#000"/>
<line x1="71.4" y1="365.5" x2="162.5" y2="365.5" stroke="#6a64c0" stroke-width="1.3"/>
<line x1="71.60000000000001" y1="277.30" x2="73.4" y2="277.30" stroke="#7a76c6" stroke-width="0.9"/>
<text transform="translate(69.0,277.30) rotate(-90)" font-size="4.6" font-weight="bold" fill="#3c3cc0" text-anchor="middle" textLength="7.800000000000001" lengthAdjust="spacingAndGlyphs">200</text>
<line x1="71.60000000000001" y1="299.35" x2="73.4" y2="299.35" stroke="#7a76c6" stroke-width="0.9"/>
<text transform="translate(69.0,299.35) rotate(-90)" font-size="4.6" font-weight="bold" fill="#3c3cc0" text-anchor="middle" textLength="7.800000000000001" lengthAdjust="spacingAndGlyphs">150</text>
<line x1="71.60000000000001" y1="321.40" x2="73.4" y2="321.40" stroke="#7a76c6" stroke-width="0.9"/>
<text transform="translate(69.0,321.40) rotate(-90)" font-size="4.6" font-weight="bold" fill="#3c3cc0" text-anchor="middle" textLength="7.800000000000001" lengthAdjust="spacingAndGlyphs">100</text>
<line x1="71.60000000000001" y1="343.45" x2="73.4" y2="343.45" stroke="#7a76c6" stroke-width="0.9"/>
<text transform="translate(69.0,343.45) rotate(-90)" font-size="4.6" font-weight="bold" fill="#3c3cc0" text-anchor="middle" textLength="5.2" lengthAdjust="spacingAndGlyphs">50</text>
<line x1="71.60000000000001" y1="365.50" x2="73.4" y2="365.50" stroke="#7a76c6" stroke-width="0.9"/>
<text transform="translate(69.0,365.50) rotate(-90)" font-size="4.6" font-weight="bold" fill="#3c3cc0" text-anchor="middle" textLength="2.6" lengthAdjust="spacingAndGlyphs">0</text>
<line x1="85.00" y1="365.5" x2="85.00" y2="368.3" stroke="#7a76c6" stroke-width="0.8"/>
<line x1="94.80" y1="365.5" x2="94.80" y2="368.3" stroke="#7a76c6" stroke-width="0.8"/>
<line x1="103.90" y1="365.5" x2="103.90" y2="368.3" stroke="#7a76c6" stroke-width="0.8"/>
<line x1="73.3" y1="365.5" x2="73.3" y2="368.5" stroke="#7a76c6" stroke-width="0.9"/>
<path d="M68.89999999999999 371.7q0.3 2.4 2.6 0.6" fill="none" stroke="#7a76c6" stroke-width="1.2" stroke-linecap="round"/>
<text x="71.20" y="372.90" font-size="4.8" font-weight="bold" fill="#3c3cc0" text-anchor="start" textLength="6.6" lengthAdjust="spacingAndGlyphs" >5.0</text>
<line x1="112.3" y1="365.5" x2="112.3" y2="368.5" stroke="#7a76c6" stroke-width="0.9"/>
<path d="M110.3 371.7q0.3 2.4 2.6 0.6" fill="none" stroke="#7a76c6" stroke-width="1.2" stroke-linecap="round"/>
<text x="112.60" y="372.90" font-size="4.8" font-weight="bold" fill="#3c3cc0" text-anchor="start" textLength="2.4" lengthAdjust="spacingAndGlyphs" >6</text>
<line x1="161.9" y1="365.5" x2="161.9" y2="368.5" stroke="#7a76c6" stroke-width="0.9"/>
<path d="M157.29999999999998 371.7q0.3 2.4 2.6 0.6" fill="none" stroke="#7a76c6" stroke-width="1.2" stroke-linecap="round"/>
<text x="159.60" y="372.90" font-size="4.8" font-weight="bold" fill="#3c3cc0" text-anchor="start" textLength="6.6" lengthAdjust="spacingAndGlyphs" >6.3</text>
<text x="117.70" y="380.10" font-size="4.6" font-weight="bold" fill="#333" text-anchor="middle" textLength="10.2" lengthAdjust="spacingAndGlyphs" >PI-A</text>
<line x1="73.4" y1="352.8" x2="85.1" y2="352.8" stroke="#b87084" stroke-width="0.9"/>
<line x1="85.1" y1="349.2" x2="85.1" y2="356.40000000000003" stroke="#b87084" stroke-width="0.9"/>
<line x1="85.1" y1="325.3" x2="113" y2="325.3" stroke="#b87084" stroke-width="0.9"/>
<line x1="85.1" y1="321.7" x2="85.1" y2="328.90000000000003" stroke="#b87084" stroke-width="0.9"/>
<line x1="113" y1="321.7" x2="113" y2="328.90000000000003" stroke="#b87084" stroke-width="0.9"/>
<line x1="113" y1="335.5" x2="134.7" y2="335.5" stroke="#b87084" stroke-width="0.9"/>
<line x1="113" y1="331.9" x2="113" y2="339.1" stroke="#b87084" stroke-width="0.9"/>
<line x1="134.7" y1="331.9" x2="134.7" y2="339.1" stroke="#b87084" stroke-width="0.9"/>
<line x1="134.7" y1="345.4" x2="162" y2="345.4" stroke="#b87084" stroke-width="0.9"/>
<line x1="134.7" y1="341.79999999999995" x2="134.7" y2="349.0" stroke="#b87084" stroke-width="0.9"/>
<text x="73.40" y="334.80" font-size="3.8" font-weight="bold" fill="#111" text-anchor="start" textLength="12" lengthAdjust="spacingAndGlyphs" >SubG1</text>
<text x="75.20" y="343.20" font-size="6.4" font-weight="normal" fill="#b3305c" text-anchor="start" textLength="17.7" lengthAdjust="spacingAndGlyphs" stroke="#b3305c" stroke-width="0.12">11.6%</text>
<text x="93.80" y="308.00" font-size="5.0" font-weight="bold" fill="#111" text-anchor="start" textLength="6.9" lengthAdjust="spacingAndGlyphs" stroke="#111" stroke-width="0.15">G1</text>
<text x="88.20" y="316.60" font-size="6.4" font-weight="normal" fill="#b3305c" text-anchor="start" textLength="17.7" lengthAdjust="spacingAndGlyphs" stroke="#b3305c" stroke-width="0.12">64.5%</text>
<text x="124.90" y="322.20" font-size="5.0" font-weight="bold" fill="#111" text-anchor="start" textLength="2.6" lengthAdjust="spacingAndGlyphs" stroke="#111" stroke-width="0.15">S</text>
<text x="118.00" y="331.50" font-size="6.4" font-weight="normal" fill="#b3305c" text-anchor="start" textLength="13.5" lengthAdjust="spacingAndGlyphs" stroke="#b3305c" stroke-width="0.12">7.4%</text>
<text x="144.60" y="331.10" font-size="5.0" font-weight="bold" fill="#111" text-anchor="start" textLength="15.2" lengthAdjust="spacingAndGlyphs" stroke="#111" stroke-width="0.15">G2/M</text>
<text x="139.30" y="340.00" font-size="6.4" font-weight="normal" fill="#b3305c" text-anchor="start" textLength="17.7" lengthAdjust="spacingAndGlyphs" stroke="#b3305c" stroke-width="0.12">17.0%</text>
<rect x="68.22436781609196" y="388.4707681365576" width="11.617777777777777" height="10.6" rx="1.2" fill="url(#btng)" stroke="#b4b4b4" stroke-width="0.5"/><rect x="68.82436781609195" y="389.0707681365576" width="4.2" height="9.4" fill="#dcdcdc"/><line x1="73.42436781609196" y1="389.4707681365576" x2="73.42436781609196" y2="398.0707681365576" stroke="#3a3a3a" stroke-width="0.9"/>
<rect x="83.04704980842911" y="388.4707681365576" width="11.81808429118774" height="10.6" rx="1.2" fill="url(#btng)" stroke="#b4b4b4" stroke-width="0.5"/><path d="M85.8470498084291 391.87076813655756v3.8M92.04704980842911 391.87076813655756v3.8M85.8470498084291 393.7707681365576H92.04704980842911" stroke="#333" stroke-width="0.9"/>
<rect x="123.60911877394635" y="388.4707681365576" width="11.417471264367816" height="10.6" rx="1.2" fill="#a4a4a4" stroke="#b4b4b4" stroke-width="0.5"/><text x="129.32" y="392.97" font-size="3.6" font-weight="bold" fill="#1a1a1a" text-anchor="middle" textLength="8.2" lengthAdjust="spacingAndGlyphs" >PLOT</text><rect x="124.60911877394635" y="393.4707681365576" width="9.417471264367816" height="0.9" fill="#d8d8d8"/><text x="129.32" y="397.47" font-size="3.6" font-weight="bold" fill="#1a1a1a" text-anchor="middle" textLength="8.2" lengthAdjust="spacingAndGlyphs" >SPEC</text>
<rect x="138.5319540229885" y="388.4707681365576" width="11.016858237547892" height="10.6" rx="1.2" fill="url(#btng)" stroke="#b4b4b4" stroke-width="0.5"/><circle cx="142.9319540229885" cy="392.7707681365576" r="2.9" fill="#e6e6e6" stroke="#2a2a2a" stroke-width="0.95"/><line x1="144.9319540229885" y1="394.87076813655756" x2="147.73195402298848" y2="397.7707681365576" stroke="#2a2a2a" stroke-width="1.2"/><line x1="141.63195402298848" y1="392.7707681365576" x2="144.23195402298848" y2="392.7707681365576" stroke="#2a2a2a" stroke-width="0.8"/>
<rect x="153.45478927203064" y="388.4707681365576" width="11.016858237547892" height="10.6" rx="1.2" fill="url(#btng)" stroke="#b4b4b4" stroke-width="0.5"/><rect x="156.55478927203063" y="391.37076813655756" width="4.816858237547891" height="4.8" fill="#c8c8c8" stroke="#4a4a4a" stroke-width="0.7"/><rect x="157.75478927203065" y="392.5707681365576" width="2.416858237547892" height="2.4000000000000004" fill="#fafafa"/><path d="M154.35478927203064 389.37076813655756h1.8v1.8h-1.8zM161.77164750957854 389.37076813655756h1.8v1.8h-1.8zM154.35478927203064 396.3707681365576h1.8v1.8h-1.8zM161.77164750957854 396.3707681365576h1.8v1.8h-1.8z" fill="#1a1a1a"/>
<rect x="190.8" y="261.5" width="128.20" height="139.40" rx="0.8" fill="#fff" stroke="#6e6e6e" stroke-width="1.5"/>
<rect x="192.7647509578544" y="263.97866287339974" width="5.6" height="5.6" fill="#fdfdfd" stroke="#d0d0d0" stroke-width="0.6"/>
<path d="M193.1647509578544 269.57866287339976V264.3786628733997H198.3647509578544" fill="none" stroke="#707070" stroke-width="0.9"/>
<path d="M310.676245210728 264.0L317.07624521072796 271.2M317.07624521072796 264.0L310.676245210728 271.2" stroke="#2a2a2a" stroke-width="1.15"/>
<path d="M309.176245210728 271.5H318.376245210728V263.4" fill="none" stroke="#8a8a8a" stroke-width="1.0"/>
<text x="211.23" y="268.54" font-size="5.2" font-weight="bold" fill="#2a2a2a" text-anchor="start" textLength="61.2" lengthAdjust="spacingAndGlyphs" >Plot 6: E02 Control positif</text>
<rect x="210.93869731800768" y="270.224893314367" width="21.2" height="4.9" rx="2.45" fill="#c4c4c4"/>
<text x="221.54" y="274.42" font-size="4.7" font-weight="bold" fill="#333" text-anchor="middle" textLength="13.4" lengthAdjust="spacingAndGlyphs" >GATE</text>
<text x="234.94" y="274.42" font-size="4.7" font-weight="bold" fill="#333" text-anchor="start" textLength="22.6" lengthAdjust="spacingAndGlyphs" >(P6 in all)</text>
<text transform="translate(199.05195402298853,331.15) rotate(-90)" font-size="4.6" font-weight="bold" fill="#444" text-anchor="middle" textLength="15" lengthAdjust="spacingAndGlyphs">Count</text>
<path d="M211.5 364.6V277.7H297.9V364.6" fill="none" stroke="#7a76c6" stroke-width="1.1"/>
<polygon points="212.00,364.60 212.00,364.60 212.35,363.50 212.70,364.33 213.05,363.80 213.40,361.28 213.75,364.60 214.10,361.45 214.45,362.08 214.80,364.15 215.15,363.75 215.50,364.60 215.85,359.47 216.20,363.75 216.55,363.28 216.90,361.88 217.25,361.19 217.60,362.16 217.95,362.40 218.30,362.34 218.65,364.60 219.00,362.82 219.35,360.60 219.70,359.68 220.05,361.50 220.40,361.69 220.75,357.27 221.10,358.17 221.45,355.68 221.80,354.49 222.15,353.60 222.50,356.09 222.85,356.21 223.20,346.49 223.55,350.61 223.90,345.97 224.25,347.38 224.60,350.28 224.95,343.24 225.30,350.78 225.65,350.09 226.00,341.17 226.35,342.89 226.70,340.11 227.05,346.63 227.40,336.90 227.75,338.45 228.10,341.45 228.45,339.65 228.80,349.04 229.15,341.97 229.50,342.45 229.85,332.36 230.20,342.64 230.55,333.68 230.90,343.96 231.25,344.48 231.60,342.64 231.95,343.62 232.30,346.35 232.65,349.92 233.00,347.29 233.35,350.29 233.70,346.97 234.05,345.85 234.40,345.54 234.75,347.98 235.10,348.11 235.45,352.58 235.80,351.33 236.15,349.98 236.50,348.84 236.85,356.50 237.20,359.53 237.55,357.84 237.90,358.82 238.25,358.04 238.60,358.76 238.95,355.67 239.30,354.66 239.65,358.53 240.00,355.95 240.35,359.38 240.70,359.39 241.05,361.92 241.40,362.31 241.75,358.33 242.10,359.59 242.45,361.84 242.80,357.93 243.15,360.26 243.50,359.49 243.85,360.02 244.20,361.25 244.55,363.05 244.90,361.47 245.25,359.58 245.60,360.96 245.95,359.38 246.30,359.28 246.65,358.47 247.00,359.77 247.35,358.97 247.70,360.04 248.05,357.99 248.40,360.02 248.75,358.32 249.10,359.61 249.45,358.41 249.80,358.46 250.15,357.06 250.50,360.87 250.85,356.11 251.20,360.01 251.55,355.59 251.90,357.13 252.25,354.68 252.60,356.62 252.95,359.00 253.30,354.26 253.65,353.51 254.00,359.69 254.35,358.53 254.70,357.20 255.05,356.28 255.40,356.31 255.75,355.10 256.10,355.51 256.45,357.03 256.80,354.62 257.15,359.27 257.50,357.68 257.85,355.96 258.20,352.06 258.55,358.99 258.90,353.67 259.25,356.87 259.60,353.22 259.95,355.09 260.30,353.93 260.65,358.61 261.00,354.11 261.35,354.14 261.70,356.37 262.05,354.98 262.40,352.26 262.75,349.15 263.10,352.64 263.45,351.56 263.80,356.24 264.15,352.12 264.50,353.03 264.85,354.73 265.20,356.09 265.55,356.55 265.90,356.85 266.25,351.21 266.60,355.90 266.95,352.94 267.30,358.07 267.65,354.91 268.00,357.10 268.35,355.17 268.70,353.25 269.05,356.23 269.40,353.25 269.75,350.94 270.10,354.63 270.45,355.24 270.80,354.93 271.15,355.80 271.50,358.05 271.85,350.17 272.20,353.83 272.55,359.06 272.90,349.72 273.25,348.90 273.60,350.65 273.95,349.28 274.30,356.80 274.65,356.13 275.00,352.38 275.35,355.90 275.70,349.75 276.05,354.35 276.40,344.87 276.75,352.52 277.10,351.47 277.45,349.59 277.80,354.70 278.15,352.60 278.50,349.55 278.85,349.82 279.20,349.09 279.55,352.87 279.90,347.50 280.25,352.37 280.60,355.03 280.95,348.31 281.30,353.16 281.65,352.70 282.00,354.42 282.35,354.14 282.70,352.77 283.05,352.76 283.40,354.15 283.75,354.98 284.10,351.43 284.45,354.57 284.80,355.05 285.15,357.84 285.50,359.34 285.85,357.81 286.20,357.59 286.55,361.23 286.90,359.22 287.25,362.46 287.60,361.75 287.95,364.27 288.30,363.19 288.65,361.77 289.00,363.52 289.35,364.60 289.70,362.20 290.00,364.60" fill="#000"/>
<line x1="209.5" y1="364.6" x2="298.4" y2="364.6" stroke="#6a64c0" stroke-width="1.3"/>
<line x1="209.7" y1="277.70" x2="211.5" y2="277.70" stroke="#7a76c6" stroke-width="0.9"/>
<text transform="translate(207.1,277.70) rotate(-90)" font-size="4.6" font-weight="bold" fill="#3c3cc0" text-anchor="middle" textLength="7.800000000000001" lengthAdjust="spacingAndGlyphs">200</text>
<line x1="209.7" y1="299.43" x2="211.5" y2="299.43" stroke="#7a76c6" stroke-width="0.9"/>
<text transform="translate(207.1,299.43) rotate(-90)" font-size="4.6" font-weight="bold" fill="#3c3cc0" text-anchor="middle" textLength="7.800000000000001" lengthAdjust="spacingAndGlyphs">150</text>
<line x1="209.7" y1="321.15" x2="211.5" y2="321.15" stroke="#7a76c6" stroke-width="0.9"/>
<text transform="translate(207.1,321.15) rotate(-90)" font-size="4.6" font-weight="bold" fill="#3c3cc0" text-anchor="middle" textLength="7.800000000000001" lengthAdjust="spacingAndGlyphs">100</text>
<line x1="209.7" y1="342.88" x2="211.5" y2="342.88" stroke="#7a76c6" stroke-width="0.9"/>
<text transform="translate(207.1,342.88) rotate(-90)" font-size="4.6" font-weight="bold" fill="#3c3cc0" text-anchor="middle" textLength="5.2" lengthAdjust="spacingAndGlyphs">50</text>
<line x1="209.7" y1="364.60" x2="211.5" y2="364.60" stroke="#7a76c6" stroke-width="0.9"/>
<text transform="translate(207.1,364.60) rotate(-90)" font-size="4.6" font-weight="bold" fill="#3c3cc0" text-anchor="middle" textLength="2.6" lengthAdjust="spacingAndGlyphs">0</text>
<line x1="218.40" y1="364.6" x2="218.40" y2="367.40000000000003" stroke="#7a76c6" stroke-width="0.8"/>
<line x1="229.00" y1="364.6" x2="229.00" y2="367.40000000000003" stroke="#7a76c6" stroke-width="0.8"/>
<line x1="237.70" y1="364.6" x2="237.70" y2="367.40000000000003" stroke="#7a76c6" stroke-width="0.8"/>
<line x1="211.3" y1="364.6" x2="211.3" y2="367.6" stroke="#7a76c6" stroke-width="0.9"/>
<path d="M206.9 370.8q0.3 2.4 2.6 0.6" fill="none" stroke="#7a76c6" stroke-width="1.2" stroke-linecap="round"/>
<text x="209.20" y="372.00" font-size="4.8" font-weight="bold" fill="#3c3cc0" text-anchor="start" textLength="6.6" lengthAdjust="spacingAndGlyphs" >5.0</text>
<line x1="245.7" y1="364.6" x2="245.7" y2="367.6" stroke="#7a76c6" stroke-width="0.9"/>
<path d="M243.79999999999998 370.8q0.3 2.4 2.6 0.6" fill="none" stroke="#7a76c6" stroke-width="1.2" stroke-linecap="round"/>
<text x="246.10" y="372.00" font-size="4.8" font-weight="bold" fill="#3c3cc0" text-anchor="start" textLength="2.4" lengthAdjust="spacingAndGlyphs" >6</text>
<line x1="298.4" y1="364.6" x2="298.4" y2="367.6" stroke="#7a76c6" stroke-width="0.9"/>
<path d="M294.1 370.8q0.3 2.4 2.6 0.6" fill="none" stroke="#7a76c6" stroke-width="1.2" stroke-linecap="round"/>
<text x="296.40" y="372.00" font-size="4.8" font-weight="bold" fill="#3c3cc0" text-anchor="start" textLength="6.6" lengthAdjust="spacingAndGlyphs" >6.3</text>
<text x="254.95" y="379.20" font-size="4.6" font-weight="bold" fill="#333" text-anchor="middle" textLength="10.2" lengthAdjust="spacingAndGlyphs" >PI-A</text>
<line x1="211.5" y1="352.3" x2="219.5" y2="352.3" stroke="#b87084" stroke-width="0.9"/>
<line x1="219.5" y1="348.7" x2="219.5" y2="355.90000000000003" stroke="#b87084" stroke-width="0.9"/>
<line x1="219.5" y1="325.0" x2="240.3" y2="325.0" stroke="#b87084" stroke-width="0.9"/>
<line x1="219.5" y1="321.4" x2="219.5" y2="328.6" stroke="#b87084" stroke-width="0.9"/>
<line x1="240.3" y1="321.4" x2="240.3" y2="328.6" stroke="#b87084" stroke-width="0.9"/>
<line x1="240.3" y1="335.5" x2="264.5" y2="335.5" stroke="#b87084" stroke-width="0.9"/>
<line x1="240.3" y1="331.9" x2="240.3" y2="339.1" stroke="#b87084" stroke-width="0.9"/>
<line x1="264.5" y1="331.9" x2="264.5" y2="339.1" stroke="#b87084" stroke-width="0.9"/>
<line x1="264.5" y1="344.8" x2="297.9" y2="344.8" stroke="#b87084" stroke-width="0.9"/>
<line x1="264.5" y1="341.2" x2="264.5" y2="348.40000000000003" stroke="#b87084" stroke-width="0.9"/>
<text x="209.10" y="335.00" font-size="3.8" font-weight="bold" fill="#111" text-anchor="start" textLength="12.6" lengthAdjust="spacingAndGlyphs" >SubG1</text>
<text x="212.40" y="343.20" font-size="6.4" font-weight="normal" fill="#b3305c" text-anchor="start" textLength="17.7" lengthAdjust="spacingAndGlyphs" stroke="#b3305c" stroke-width="0.12">13.9%</text>
<text x="222.70" y="310.60" font-size="5.0" font-weight="bold" fill="#111" text-anchor="start" textLength="6.5" lengthAdjust="spacingAndGlyphs" stroke="#111" stroke-width="0.15">G1</text>
<text x="221.40" y="320.20" font-size="6.4" font-weight="normal" fill="#b3305c" text-anchor="start" textLength="17.4" lengthAdjust="spacingAndGlyphs" stroke="#b3305c" stroke-width="0.12">35.7%</text>
<text x="253.00" y="319.60" font-size="5.0" font-weight="bold" fill="#111" text-anchor="start" textLength="2.6" lengthAdjust="spacingAndGlyphs" stroke="#111" stroke-width="0.15">S</text>
<text x="246.80" y="329.10" font-size="6.4" font-weight="normal" fill="#b3305c" text-anchor="start" textLength="17.7" lengthAdjust="spacingAndGlyphs" stroke="#b3305c" stroke-width="0.12">19.4%</text>
<text x="272.80" y="333.80" font-size="5.0" font-weight="bold" fill="#111" text-anchor="start" textLength="15.8" lengthAdjust="spacingAndGlyphs" stroke="#111" stroke-width="0.15">G2/M</text>
<text x="269.10" y="343.60" font-size="6.4" font-weight="normal" fill="#b3305c" text-anchor="start" textLength="17.7" lengthAdjust="spacingAndGlyphs" stroke="#b3305c" stroke-width="0.12">31.4%</text>
<rect x="206.41977011494254" y="387.31692745376955" width="11.395555555555555" height="10.6" rx="1.2" fill="url(#btng)" stroke="#b4b4b4" stroke-width="0.5"/><rect x="207.01977011494253" y="387.9169274537696" width="4.2" height="9.4" fill="#dcdcdc"/><line x1="211.61977011494253" y1="388.31692745376955" x2="211.61977011494253" y2="396.9169274537696" stroke="#3a3a3a" stroke-width="0.9"/>
<rect x="220.95892720306514" y="387.31692745376955" width="11.592030651340997" height="10.6" rx="1.2" fill="url(#btng)" stroke="#b4b4b4" stroke-width="0.5"/><path d="M223.75892720306516 390.71692745376953v3.8M229.95892720306514 390.71692745376953v3.8M223.75892720306516 392.61692745376956H229.95892720306514" stroke="#333" stroke-width="0.9"/>
<rect x="260.74513409961685" y="387.31692745376955" width="11.199080459770114" height="10.6" rx="1.2" fill="#a4a4a4" stroke="#b4b4b4" stroke-width="0.5"/><text x="266.34" y="391.82" font-size="3.6" font-weight="bold" fill="#1a1a1a" text-anchor="middle" textLength="8.2" lengthAdjust="spacingAndGlyphs" >PLOT</text><rect x="261.74513409961685" y="392.31692745376955" width="9.199080459770114" height="0.9" fill="#d8d8d8"/><text x="266.34" y="396.32" font-size="3.6" font-weight="bold" fill="#1a1a1a" text-anchor="middle" textLength="8.2" lengthAdjust="spacingAndGlyphs" >SPEC</text>
<rect x="275.38252873563215" y="387.31692745376955" width="10.806130268199233" height="10.6" rx="1.2" fill="url(#btng)" stroke="#b4b4b4" stroke-width="0.5"/><circle cx="279.7825287356321" cy="391.61692745376956" r="2.9" fill="#e6e6e6" stroke="#2a2a2a" stroke-width="0.95"/><line x1="281.7825287356321" y1="393.71692745376953" x2="284.58252873563214" y2="396.61692745376956" stroke="#2a2a2a" stroke-width="1.2"/><line x1="278.4825287356322" y1="391.61692745376956" x2="281.08252873563214" y2="391.61692745376956" stroke="#2a2a2a" stroke-width="0.8"/>
<rect x="290.0199233716475" y="387.31692745376955" width="10.806130268199233" height="10.6" rx="1.2" fill="url(#btng)" stroke="#b4b4b4" stroke-width="0.5"/><rect x="293.11992337164753" y="390.21692745376953" width="4.606130268199233" height="4.8" fill="#c8c8c8" stroke="#4a4a4a" stroke-width="0.7"/><rect x="294.3199233716475" y="391.4169274537696" width="2.2061302681992334" height="2.4000000000000004" fill="#fafafa"/><path d="M290.9199233716475 388.21692745376953h1.8v1.8h-1.8zM298.12605363984676 388.21692745376953h1.8v1.8h-1.8zM290.9199233716475 395.2169274537696h1.8v1.8h-1.8zM298.12605363984676 395.2169274537696h1.8v1.8h-1.8z" fill="#1a1a1a"/>
<rect x="327.5" y="261.7" width="132.00" height="140.50" rx="0.8" fill="#fff" stroke="#6e6e6e" stroke-width="1.5"/>
<rect x="329.52298850574715" y="264.19822190611666" width="5.6" height="5.6" fill="#fdfdfd" stroke="#d0d0d0" stroke-width="0.6"/>
<path d="M329.9229885057471 269.7982219061167V264.59822190611663H335.1229885057472" fill="none" stroke="#707070" stroke-width="0.9"/>
<path d="M450.88505747126436 264.2L457.28505747126434 271.4M457.28505747126434 264.2L450.88505747126436 271.4" stroke="#2a2a2a" stroke-width="1.15"/>
<path d="M449.38505747126436 271.7H458.58505747126435V263.59999999999997" fill="none" stroke="#8a8a8a" stroke-width="1.0"/>
<text x="348.54" y="268.79" font-size="5.2" font-weight="bold" fill="#2a2a2a" text-anchor="start" textLength="58.2" lengthAdjust="spacingAndGlyphs" >Plot 6: E03 Epi50 T47D_1</text>
<rect x="348.235632183908" y="270.49374110953056" width="21.2" height="4.9" rx="2.45" fill="#c4c4c4"/>
<text x="358.84" y="274.69" font-size="4.7" font-weight="bold" fill="#333" text-anchor="middle" textLength="13.4" lengthAdjust="spacingAndGlyphs" >GATE</text>
<text x="372.24" y="274.69" font-size="4.7" font-weight="bold" fill="#333" text-anchor="start" textLength="22.6" lengthAdjust="spacingAndGlyphs" >(P6 in all)</text>
<text transform="translate(335.99655172413793,331.8) rotate(-90)" font-size="4.6" font-weight="bold" fill="#444" text-anchor="middle" textLength="15" lengthAdjust="spacingAndGlyphs">Count</text>
<path d="M347.8 365.6V278.0H437.4V365.6" fill="none" stroke="#7a76c6" stroke-width="1.1"/>
<polygon points="349.00,365.60 349.00,365.60 349.35,365.60 349.70,365.60 350.05,363.59 350.40,365.57 350.75,364.30 351.10,365.21 351.45,364.09 351.80,364.61 352.15,364.42 352.50,364.50 352.85,365.18 353.20,363.55 353.55,364.03 353.90,365.60 354.25,363.16 354.60,363.62 354.95,365.01 355.30,362.60 355.65,365.60 356.00,360.85 356.35,363.42 356.70,362.72 357.05,364.12 357.40,361.00 357.75,361.62 358.10,363.20 358.45,360.24 358.80,361.34 359.15,361.37 359.50,361.10 359.85,360.86 360.20,362.41 360.55,361.93 360.90,358.49 361.25,357.51 361.60,360.85 361.95,355.13 362.30,356.61 362.65,354.95 363.00,354.79 363.35,353.97 363.70,357.70 364.05,351.67 364.40,355.30 364.75,353.28 365.10,351.08 365.45,350.98 365.80,347.58 366.15,345.31 366.50,345.98 366.85,346.09 367.20,340.47 367.55,343.32 367.90,338.83 368.25,337.43 368.60,343.56 368.95,324.97 369.30,326.86 369.65,325.97 370.00,319.74 370.35,315.87 370.70,335.94 371.05,309.17 371.40,318.25 371.75,317.18 372.10,309.61 372.45,294.39 372.80,286.74 373.15,286.87 373.50,301.54 373.85,304.55 374.20,302.99 374.55,283.34 374.90,306.98 375.25,300.40 375.60,311.41 375.95,321.47 376.30,294.74 376.65,296.88 377.00,281.19 377.35,296.83 377.70,304.50 378.05,289.16 378.40,306.40 378.75,312.08 379.10,318.78 379.45,296.08 379.80,316.82 380.15,318.48 380.50,323.13 380.85,302.56 381.20,323.28 381.55,298.85 381.90,326.39 382.25,325.61 382.60,311.86 382.95,330.72 383.30,338.83 383.65,336.54 384.00,344.76 384.35,339.14 384.70,341.29 385.05,349.51 385.40,349.15 385.75,346.24 386.10,352.95 386.45,355.68 386.80,355.14 387.15,359.92 387.50,357.39 387.85,361.09 388.20,356.93 388.55,359.24 388.90,362.00 389.25,360.66 389.60,358.81 389.95,361.92 390.30,358.88 390.65,361.82 391.00,363.61 391.35,361.46 391.70,361.97 392.05,360.49 392.40,359.39 392.75,360.92 393.10,361.38 393.45,361.17 393.80,361.01 394.15,360.00 394.50,362.26 394.85,362.82 395.20,361.96 395.55,359.32 395.90,362.32 396.25,362.63 396.60,362.89 396.95,361.54 397.30,363.82 397.65,361.60 398.00,361.15 398.35,361.59 398.70,363.84 399.05,362.63 399.40,362.01 399.75,363.10 400.10,359.03 400.45,360.60 400.80,365.02 401.15,363.20 401.50,362.06 401.85,360.87 402.20,361.58 402.55,360.89 402.90,362.20 403.25,362.06 403.60,363.33 403.95,365.45 404.30,361.30 404.65,364.37 405.00,362.86 405.35,363.65 405.70,360.73 406.05,361.19 406.40,362.01 406.75,361.06 407.10,361.88 407.45,362.45 407.80,359.65 408.15,358.82 408.50,362.40 408.85,360.20 409.20,358.88 409.55,362.32 409.90,361.78 410.25,362.19 410.60,361.98 410.95,360.73 411.30,362.58 411.65,358.19 412.00,359.71 412.35,359.54 412.70,360.93 413.05,358.76 413.40,358.83 413.75,356.25 414.10,357.31 414.45,360.68 414.80,360.14 415.15,358.53 415.50,358.59 415.85,356.31 416.20,357.25 416.55,358.21 416.90,359.12 417.25,357.64 417.60,358.13 417.95,357.26 418.30,357.48 418.65,355.23 419.00,356.22 419.35,357.41 419.70,353.40 420.05,356.92 420.40,354.92 420.75,357.78 421.10,354.70 421.45,358.17 421.80,355.28 422.15,353.99 422.50,355.65 422.85,354.58 423.20,354.11 423.55,353.25 423.90,353.55 424.25,351.61 424.60,352.08 424.95,349.35 425.30,353.48 425.65,354.27 426.00,351.65 426.35,355.94 426.70,351.50 427.05,355.69 427.40,354.95 427.75,356.44 428.10,352.40 428.45,355.18 428.80,358.64 429.15,357.47 429.50,356.76 429.85,357.15 430.20,356.18 430.55,357.96 430.90,359.81 431.25,357.72 431.60,361.25 431.95,360.56 432.30,360.66 432.65,360.10 433.00,361.81 433.35,360.86 433.70,361.65 434.05,364.19 434.40,360.85 434.75,363.41 435.10,365.05 435.45,363.27 435.80,365.40 436.15,363.58 436.50,365.60" fill="#000"/>
<line x1="345.8" y1="365.6" x2="437.9" y2="365.6" stroke="#6a64c0" stroke-width="1.3"/>
<line x1="346.0" y1="278.00" x2="347.8" y2="278.00" stroke="#7a76c6" stroke-width="0.9"/>
<text transform="translate(343.40000000000003,278.00) rotate(-90)" font-size="4.6" font-weight="bold" fill="#3c3cc0" text-anchor="middle" textLength="7.800000000000001" lengthAdjust="spacingAndGlyphs">200</text>
<line x1="346.0" y1="299.90" x2="347.8" y2="299.90" stroke="#7a76c6" stroke-width="0.9"/>
<text transform="translate(343.40000000000003,299.90) rotate(-90)" font-size="4.6" font-weight="bold" fill="#3c3cc0" text-anchor="middle" textLength="7.800000000000001" lengthAdjust="spacingAndGlyphs">150</text>
<line x1="346.0" y1="321.80" x2="347.8" y2="321.80" stroke="#7a76c6" stroke-width="0.9"/>
<text transform="translate(343.40000000000003,321.80) rotate(-90)" font-size="4.6" font-weight="bold" fill="#3c3cc0" text-anchor="middle" textLength="7.800000000000001" lengthAdjust="spacingAndGlyphs">100</text>
<line x1="346.0" y1="343.70" x2="347.8" y2="343.70" stroke="#7a76c6" stroke-width="0.9"/>
<text transform="translate(343.40000000000003,343.70) rotate(-90)" font-size="4.6" font-weight="bold" fill="#3c3cc0" text-anchor="middle" textLength="5.2" lengthAdjust="spacingAndGlyphs">50</text>
<line x1="346.0" y1="365.60" x2="347.8" y2="365.60" stroke="#7a76c6" stroke-width="0.9"/>
<text transform="translate(343.40000000000003,365.60) rotate(-90)" font-size="4.6" font-weight="bold" fill="#3c3cc0" text-anchor="middle" textLength="2.6" lengthAdjust="spacingAndGlyphs">0</text>
<line x1="360.00" y1="365.6" x2="360.00" y2="368.40000000000003" stroke="#7a76c6" stroke-width="0.8"/>
<line x1="370.30" y1="365.6" x2="370.30" y2="368.40000000000003" stroke="#7a76c6" stroke-width="0.8"/>
<line x1="379.80" y1="365.6" x2="379.80" y2="368.40000000000003" stroke="#7a76c6" stroke-width="0.8"/>
<line x1="348.3" y1="365.6" x2="348.3" y2="368.6" stroke="#7a76c6" stroke-width="0.9"/>
<path d="M343.6 371.8q0.3 2.4 2.6 0.6" fill="none" stroke="#7a76c6" stroke-width="1.2" stroke-linecap="round"/>
<text x="345.90" y="373.00" font-size="4.8" font-weight="bold" fill="#3c3cc0" text-anchor="start" textLength="6.6" lengthAdjust="spacingAndGlyphs" >5.0</text>
<line x1="387.8" y1="365.6" x2="387.8" y2="368.6" stroke="#7a76c6" stroke-width="0.9"/>
<path d="M385.8 371.8q0.3 2.4 2.6 0.6" fill="none" stroke="#7a76c6" stroke-width="1.2" stroke-linecap="round"/>
<text x="388.10" y="373.00" font-size="4.8" font-weight="bold" fill="#3c3cc0" text-anchor="start" textLength="2.4" lengthAdjust="spacingAndGlyphs" >6</text>
<line x1="437.1" y1="365.6" x2="437.1" y2="368.6" stroke="#7a76c6" stroke-width="0.9"/>
<path d="M433.5 371.8q0.3 2.4 2.6 0.6" fill="none" stroke="#7a76c6" stroke-width="1.2" stroke-linecap="round"/>
<text x="435.80" y="373.00" font-size="4.8" font-weight="bold" fill="#3c3cc0" text-anchor="start" textLength="6.6" lengthAdjust="spacingAndGlyphs" >6.3</text>
<text x="393.55" y="380.20" font-size="4.6" font-weight="bold" fill="#333" text-anchor="middle" textLength="10.2" lengthAdjust="spacingAndGlyphs" >PI-A</text>
<line x1="347.8" y1="353.2" x2="362.7" y2="353.2" stroke="#b87084" stroke-width="0.9"/>
<line x1="362.7" y1="349.59999999999997" x2="362.7" y2="356.8" stroke="#b87084" stroke-width="0.9"/>
<line x1="362.7" y1="325.9" x2="388.3" y2="325.9" stroke="#b87084" stroke-width="0.9"/>
<line x1="362.7" y1="322.29999999999995" x2="362.7" y2="329.5" stroke="#b87084" stroke-width="0.9"/>
<line x1="388.3" y1="322.29999999999995" x2="388.3" y2="329.5" stroke="#b87084" stroke-width="0.9"/>
<line x1="388.3" y1="336.5" x2="416.2" y2="336.5" stroke="#b87084" stroke-width="0.9"/>
<line x1="388.3" y1="332.9" x2="388.3" y2="340.1" stroke="#b87084" stroke-width="0.9"/>
<line x1="416.2" y1="332.9" x2="416.2" y2="340.1" stroke="#b87084" stroke-width="0.9"/>
<line x1="416.2" y1="345.8" x2="437.6" y2="345.8" stroke="#b87084" stroke-width="0.9"/>
<line x1="416.2" y1="342.2" x2="416.2" y2="349.40000000000003" stroke="#b87084" stroke-width="0.9"/>
<text x="352.10" y="334.20" font-size="3.8" font-weight="bold" fill="#111" text-anchor="start" textLength="13" lengthAdjust="spacingAndGlyphs" >SubG1</text>
<text x="350.80" y="344.00" font-size="6.4" font-weight="normal" fill="#b3305c" text-anchor="start" textLength="17.5" lengthAdjust="spacingAndGlyphs" stroke="#b3305c" stroke-width="0.12">21.5%</text>
<text x="358.60" y="307.20" font-size="5.0" font-weight="bold" fill="#111" text-anchor="start" textLength="7.1" lengthAdjust="spacingAndGlyphs" stroke="#111" stroke-width="0.15">G1</text>
<text x="356.70" y="317.00" font-size="6.4" font-weight="normal" fill="#b3305c" text-anchor="start" textLength="17.7" lengthAdjust="spacingAndGlyphs" stroke="#b3305c" stroke-width="0.12">62.2%</text>
<text x="399.90" y="322.60" font-size="5.0" font-weight="bold" fill="#111" text-anchor="start" textLength="2.6" lengthAdjust="spacingAndGlyphs" stroke="#111" stroke-width="0.15">S</text>
<text x="393.50" y="332.40" font-size="6.4" font-weight="normal" fill="#b3305c" text-anchor="start" textLength="13.4" lengthAdjust="spacingAndGlyphs" stroke="#b3305c" stroke-width="0.12">7.7%</text>
<text x="424.00" y="331.00" font-size="5.0" font-weight="bold" fill="#111" text-anchor="start" textLength="15.4" lengthAdjust="spacingAndGlyphs" stroke="#111" stroke-width="0.15">G2/M</text>
<text x="419.90" y="341.20" font-size="6.4" font-weight="normal" fill="#b3305c" text-anchor="start" textLength="14" lengthAdjust="spacingAndGlyphs" stroke="#b3305c" stroke-width="0.12">9.5%</text>
<rect x="343.5827586206897" y="388.50974395448077" width="11.733333333333334" height="10.6" rx="1.2" fill="url(#btng)" stroke="#b4b4b4" stroke-width="0.5"/><rect x="344.1827586206897" y="389.1097439544808" width="4.2" height="9.4" fill="#dcdcdc"/><line x1="348.78275862068966" y1="389.50974395448077" x2="348.78275862068966" y2="398.1097439544808" stroke="#3a3a3a" stroke-width="0.9"/>
<rect x="358.5528735632184" y="388.50974395448077" width="11.935632183908048" height="10.6" rx="1.2" fill="url(#btng)" stroke="#b4b4b4" stroke-width="0.5"/><path d="M361.3528735632184 391.90974395448075v3.8M367.5528735632184 391.90974395448075v3.8M361.3528735632184 393.8097439544808H367.5528735632184" stroke="#333" stroke-width="0.9"/>
<rect x="399.51839080459774" y="388.50974395448077" width="11.531034482758622" height="10.6" rx="1.2" fill="#a4a4a4" stroke="#b4b4b4" stroke-width="0.5"/><text x="405.28" y="393.01" font-size="3.6" font-weight="bold" fill="#1a1a1a" text-anchor="middle" textLength="8.2" lengthAdjust="spacingAndGlyphs" >PLOT</text><rect x="400.51839080459774" y="393.50974395448077" width="9.531034482758622" height="0.9" fill="#d8d8d8"/><text x="405.28" y="397.51" font-size="3.6" font-weight="bold" fill="#1a1a1a" text-anchor="middle" textLength="8.2" lengthAdjust="spacingAndGlyphs" >SPEC</text>
<rect x="414.5896551724138" y="388.50974395448077" width="11.126436781609197" height="10.6" rx="1.2" fill="url(#btng)" stroke="#b4b4b4" stroke-width="0.5"/><circle cx="418.9896551724138" cy="392.8097439544808" r="2.9" fill="#e6e6e6" stroke="#2a2a2a" stroke-width="0.95"/><line x1="420.9896551724138" y1="394.90974395448075" x2="423.7896551724138" y2="397.8097439544808" stroke="#2a2a2a" stroke-width="1.2"/><line x1="417.68965517241384" y1="392.8097439544808" x2="420.2896551724138" y2="392.8097439544808" stroke="#2a2a2a" stroke-width="0.8"/>
<rect x="429.6609195402299" y="388.50974395448077" width="11.126436781609197" height="10.6" rx="1.2" fill="url(#btng)" stroke="#b4b4b4" stroke-width="0.5"/><rect x="432.7609195402299" y="391.40974395448075" width="4.926436781609197" height="4.8" fill="#c8c8c8" stroke="#4a4a4a" stroke-width="0.7"/><rect x="433.9609195402299" y="392.6097439544808" width="2.5264367816091973" height="2.4000000000000004" fill="#fafafa"/><path d="M430.56091954022986 389.40974395448075h1.8v1.8h-1.8zM438.0873563218391 389.40974395448075h1.8v1.8h-1.8zM430.56091954022986 396.4097439544808h1.8v1.8h-1.8zM438.0873563218391 396.4097439544808h1.8v1.8h-1.8z" fill="#1a1a1a"/>
<text x="118.00" y="186.90" font-size="9.2" font-weight="bold" fill="#161616" text-anchor="middle" textLength="67.6" lengthAdjust="spacingAndGlyphs" >Negative Control</text>
<text x="118.00" y="198.40" font-size="9.2" font-weight="bold" fill="#161616" text-anchor="middle" textLength="46.2" lengthAdjust="spacingAndGlyphs" >(1% DMSO)</text>
<text x="255.30" y="186.90" font-size="9.2" font-weight="bold" fill="#161616" text-anchor="middle" textLength="64.0" lengthAdjust="spacingAndGlyphs" >Positive Control</text>
<text x="255.30" y="198.40" font-size="9.2" font-weight="bold" fill="#161616" text-anchor="middle" textLength="81.4" lengthAdjust="spacingAndGlyphs" >(33.23 µM Cisplatin)</text>
<text x="393.30" y="186.90" font-size="9.2" font-weight="bold" fill="#161616" text-anchor="middle" textLength="93.2" lengthAdjust="spacingAndGlyphs" >(+)-2,2'-Epicytoskyrin A</text>
<text x="393.30" y="198.40" font-size="9.2" font-weight="bold" fill="#161616" text-anchor="middle" textLength="45.0" lengthAdjust="spacingAndGlyphs" >(87.03 µM)</text>
<text x="118.00" y="415.90" font-size="9.2" font-weight="bold" fill="#161616" text-anchor="middle" textLength="67.6" lengthAdjust="spacingAndGlyphs" >Negative Control</text>
<text x="118.00" y="427.40" font-size="9.2" font-weight="bold" fill="#161616" text-anchor="middle" textLength="46.2" lengthAdjust="spacingAndGlyphs" >(1% DMSO)</text>
<text x="255.30" y="415.90" font-size="9.2" font-weight="bold" fill="#161616" text-anchor="middle" textLength="64.0" lengthAdjust="spacingAndGlyphs" >Positive Control</text>
<text x="255.30" y="427.40" font-size="9.2" font-weight="bold" fill="#161616" text-anchor="middle" textLength="81.4" lengthAdjust="spacingAndGlyphs" >(33.23 µM Cisplatin)</text>
<text x="393.30" y="415.90" font-size="9.2" font-weight="bold" fill="#161616" text-anchor="middle" textLength="93.2" lengthAdjust="spacingAndGlyphs" >(+)-2,2'-Epicytoskyrin A</text>
<text x="393.30" y="427.40" font-size="9.2" font-weight="bold" fill="#161616" text-anchor="middle" textLength="45.0" lengthAdjust="spacingAndGlyphs" >(87.03 µM)</text>
<defs><pattern id="h1" patternUnits="userSpaceOnUse" width="3.0" height="3.0" patternTransform="rotate(-45)"><rect width="3.0" height="3.0" fill="#fff"/><rect x="0" y="0" width="0.75" height="3.0" fill="#303030"/></pattern></defs>
<text x="543.20" y="37.30" font-size="12.2" font-weight="bold" fill="#111" text-anchor="start" textLength="63.2" lengthAdjust="spacingAndGlyphs" stroke="#111" stroke-width="0.28">MCF-7 cells</text>
<rect x="535.0" y="131.31" width="18.799999999999955" height="4.49" fill="#000" stroke="#1a1a1a" stroke-width="0.9"/>
<rect x="535.0" y="85.62" width="18.799999999999955" height="45.69" fill="#a6a6a6" stroke="#1a1a1a" stroke-width="0.9"/>
<rect x="535.0" y="81.42" width="18.799999999999955" height="4.19" fill="#fff" stroke="#1a1a1a" stroke-width="0.9"/>
<rect x="535.0" y="60.90" width="18.799999999999955" height="20.52" fill="url(#h1)" stroke="#1a1a1a" stroke-width="0.9"/>
<line x1="544.4" y1="131.31" x2="544.4" y2="127.19" stroke="#555" stroke-width="0.9"/><line x1="541.8" y1="127.19" x2="547.0" y2="127.19" stroke="#555" stroke-width="0.9"/>
<line x1="544.4" y1="81.42" x2="544.4" y2="80.67" stroke="#555" stroke-width="0.9"/><line x1="541.8" y1="80.67" x2="547.0" y2="80.67" stroke="#555" stroke-width="0.9"/>
<line x1="544.4" y1="60.90" x2="544.4" y2="56.78" stroke="#555" stroke-width="0.9"/><line x1="541.8" y1="56.78" x2="547.0" y2="56.78" stroke="#555" stroke-width="0.9"/>
<rect x="581.6" y="94.46" width="19.0" height="41.34" fill="#000" stroke="#1a1a1a" stroke-width="0.9"/>
<rect x="581.6" y="82.47" width="19.0" height="11.98" fill="#a6a6a6" stroke="#1a1a1a" stroke-width="0.9"/>
<rect x="581.6" y="70.71" width="19.0" height="11.76" fill="#fff" stroke="#1a1a1a" stroke-width="0.9"/>
<rect x="581.6" y="60.90" width="19.0" height="9.81" fill="url(#h1)" stroke="#1a1a1a" stroke-width="0.9"/>
<line x1="591.1" y1="94.46" x2="591.1" y2="94.08" stroke="#555" stroke-width="0.9"/><line x1="588.5" y1="94.08" x2="593.7" y2="94.08" stroke="#555" stroke-width="0.9"/>
<line x1="591.1" y1="82.47" x2="591.1" y2="81.72" stroke="#555" stroke-width="0.9"/><line x1="588.5" y1="81.72" x2="593.7" y2="81.72" stroke="#555" stroke-width="0.9"/>
<line x1="591.1" y1="60.90" x2="591.1" y2="59.93" stroke="#555" stroke-width="0.9"/><line x1="588.5" y1="59.93" x2="593.7" y2="59.93" stroke="#555" stroke-width="0.9"/>
<rect x="628.8" y="109.96" width="19.200000000000045" height="25.84" fill="#000" stroke="#1a1a1a" stroke-width="0.9"/>
<rect x="628.8" y="73.63" width="19.200000000000045" height="36.33" fill="#a6a6a6" stroke="#1a1a1a" stroke-width="0.9"/>
<rect x="628.8" y="71.54" width="19.200000000000045" height="2.10" fill="#fff" stroke="#1a1a1a" stroke-width="0.9"/>
<rect x="628.8" y="60.90" width="19.200000000000045" height="10.64" fill="url(#h1)" stroke="#1a1a1a" stroke-width="0.9"/>
<line x1="638.4" y1="109.96" x2="638.4" y2="103.59" stroke="#555" stroke-width="0.9"/><line x1="635.8" y1="103.59" x2="641.0" y2="103.59" stroke="#555" stroke-width="0.9"/>
<line x1="638.4" y1="71.54" x2="638.4" y2="70.41" stroke="#555" stroke-width="0.9"/><line x1="635.8" y1="70.41" x2="641.0" y2="70.41" stroke="#555" stroke-width="0.9"/>
<line x1="638.4" y1="60.90" x2="638.4" y2="57.90" stroke="#555" stroke-width="0.9"/><line x1="635.8" y1="57.90" x2="641.0" y2="57.90" stroke="#555" stroke-width="0.9"/>
<line x1="521.3" y1="45.4" x2="521.3" y2="135.8" stroke="#444" stroke-width="1.1"/>
<line x1="518.3" y1="135.8" x2="662.3" y2="135.8" stroke="#444" stroke-width="1.1"/>
<line x1="518.0999999999999" y1="135.80" x2="521.3" y2="135.80" stroke="#444" stroke-width="1.1"/>
<text x="510.50" y="139.00" font-size="9.2" font-weight="bold" fill="#111" text-anchor="end" textLength="5.35" lengthAdjust="spacingAndGlyphs" stroke="#111" stroke-width="0.28">0</text>
<line x1="518.0999999999999" y1="117.08" x2="521.3" y2="117.08" stroke="#444" stroke-width="1.1"/>
<text x="510.50" y="120.28" font-size="9.2" font-weight="bold" fill="#111" text-anchor="end" textLength="10.7" lengthAdjust="spacingAndGlyphs" stroke="#111" stroke-width="0.28">25</text>
<line x1="518.0999999999999" y1="98.35" x2="521.3" y2="98.35" stroke="#444" stroke-width="1.1"/>
<text x="510.50" y="101.55" font-size="9.2" font-weight="bold" fill="#111" text-anchor="end" textLength="10.7" lengthAdjust="spacingAndGlyphs" stroke="#111" stroke-width="0.28">50</text>
<line x1="518.0999999999999" y1="79.62" x2="521.3" y2="79.62" stroke="#444" stroke-width="1.1"/>
<text x="510.50" y="82.83" font-size="9.2" font-weight="bold" fill="#111" text-anchor="end" textLength="10.7" lengthAdjust="spacingAndGlyphs" stroke="#111" stroke-width="0.28">75</text>
<line x1="518.0999999999999" y1="60.90" x2="521.3" y2="60.90" stroke="#444" stroke-width="1.1"/>
<text x="510.50" y="64.10" font-size="9.2" font-weight="bold" fill="#111" text-anchor="end" textLength="16.049999999999997" lengthAdjust="spacingAndGlyphs" stroke="#111" stroke-width="0.28">100</text>
<text x="544.60" y="153.30" font-size="9.8" font-weight="bold" fill="#111" text-anchor="middle" textLength="27.4" lengthAdjust="spacingAndGlyphs" stroke="#111" stroke-width="0.28">DMSO</text>
<text x="591.20" y="153.30" font-size="9.8" font-weight="bold" fill="#111" text-anchor="middle" textLength="13.4" lengthAdjust="spacingAndGlyphs" stroke="#111" stroke-width="0.28">Cis</text>
<text x="638.40" y="153.30" font-size="9.8" font-weight="bold" fill="#111" text-anchor="middle" textLength="14.0" lengthAdjust="spacingAndGlyphs" stroke="#111" stroke-width="0.28">Epi</text>
<text transform="translate(488.2,95.35000000000001) rotate(-90)" font-size="11" font-weight="bold" fill="#111" stroke="#111" stroke-width="0.28" text-anchor="middle" textLength="95" lengthAdjust="spacingAndGlyphs">Cell population (%)</text>
<rect x="517.1" y="171.2" width="5.2" height="5.2" fill="#000" stroke="#222" stroke-width="0.8"/>
<text x="524.70" y="176.60" font-size="8.0" font-weight="bold" fill="#111" text-anchor="start" textLength="28.3" lengthAdjust="spacingAndGlyphs" stroke="#111" stroke-width="0.2">Sub G1</text>
<rect x="560.9" y="171.2" width="5.2" height="5.2" fill="#a6a6a6" stroke="#222" stroke-width="0.8"/>
<text x="566.90" y="176.60" font-size="8.0" font-weight="bold" fill="#111" text-anchor="start" textLength="12.2" lengthAdjust="spacingAndGlyphs" stroke="#111" stroke-width="0.2">G1</text>
<rect x="587.1" y="171.2" width="5.2" height="5.2" fill="#fff" stroke="#222" stroke-width="0.8"/>
<text x="593.40" y="176.60" font-size="8.0" font-weight="bold" fill="#111" text-anchor="start" textLength="6.0" lengthAdjust="spacingAndGlyphs" stroke="#111" stroke-width="0.2">S</text>
<rect x="606.5" y="171.2" width="5.2" height="5.2" fill="url(#h1)" stroke="#222" stroke-width="0.8"/>
<text x="612.70" y="176.60" font-size="8.0" font-weight="bold" fill="#111" text-anchor="start" textLength="23.0" lengthAdjust="spacingAndGlyphs" stroke="#111" stroke-width="0.2">G2/M</text>
<defs><pattern id="h2" patternUnits="userSpaceOnUse" width="3.1" height="3.1" patternTransform="rotate(-45)"><rect width="3.1" height="3.1" fill="#fff"/><rect x="0" y="0" width="0.85" height="3.1" fill="#c6c6c6"/></pattern></defs>
<text x="546.60" y="265.80" font-size="12.2" font-weight="bold" fill="#111" text-anchor="start" textLength="56.1" lengthAdjust="spacingAndGlyphs" stroke="#111" stroke-width="0.28">T47D cells</text>
<rect x="536.5" y="358.88" width="18.5" height="5.82" fill="#000" stroke="#1a1a1a" stroke-width="0.9"/>
<rect x="536.5" y="307.40" width="18.5" height="51.49" fill="#a6a6a6" stroke="#1a1a1a" stroke-width="0.9"/>
<rect x="536.5" y="302.22" width="18.5" height="5.18" fill="#fff" stroke="#1a1a1a" stroke-width="0.9"/>
<rect x="536.5" y="287.95" width="18.5" height="14.27" fill="url(#h2)" stroke="#1a1a1a" stroke-width="0.9"/>
<line x1="545.75" y1="358.88" x2="545.75" y2="358.48" stroke="#555" stroke-width="0.9"/><line x1="543.15" y1="358.48" x2="548.35" y2="358.48" stroke="#555" stroke-width="0.9"/>
<line x1="545.75" y1="302.22" x2="545.75" y2="301.58" stroke="#555" stroke-width="0.9"/><line x1="543.15" y1="301.58" x2="548.35" y2="301.58" stroke="#555" stroke-width="0.9"/>
<line x1="545.75" y1="287.95" x2="545.75" y2="287.47" stroke="#555" stroke-width="0.9"/><line x1="543.15" y1="287.47" x2="548.35" y2="287.47" stroke="#555" stroke-width="0.9"/>
<rect x="582.6" y="359.28" width="18.799999999999955" height="5.42" fill="#000" stroke="#1a1a1a" stroke-width="0.9"/>
<rect x="582.6" y="328.60" width="18.799999999999955" height="30.68" fill="#a6a6a6" stroke="#1a1a1a" stroke-width="0.9"/>
<rect x="582.6" y="315.21" width="18.799999999999955" height="13.39" fill="#fff" stroke="#1a1a1a" stroke-width="0.9"/>
<rect x="582.6" y="288.19" width="18.799999999999955" height="27.02" fill="url(#h2)" stroke="#1a1a1a" stroke-width="0.9"/>
<line x1="592.0" y1="328.60" x2="592.0" y2="327.64" stroke="#555" stroke-width="0.9"/><line x1="589.4" y1="327.64" x2="594.6" y2="327.64" stroke="#555" stroke-width="0.9"/>
<line x1="592.0" y1="359.28" x2="592.0" y2="358.96" stroke="#555" stroke-width="0.9"/><line x1="589.4" y1="358.96" x2="594.6" y2="358.96" stroke="#555" stroke-width="0.9"/>
<rect x="629.2" y="352.11" width="18.899999999999977" height="12.59" fill="#000" stroke="#1a1a1a" stroke-width="0.9"/>
<rect x="629.2" y="299.90" width="18.899999999999977" height="52.20" fill="#a6a6a6" stroke="#1a1a1a" stroke-width="0.9"/>
<rect x="629.2" y="294.09" width="18.899999999999977" height="5.82" fill="#fff" stroke="#1a1a1a" stroke-width="0.9"/>
<rect x="629.2" y="285.08" width="18.899999999999977" height="9.01" fill="url(#h2)" stroke="#1a1a1a" stroke-width="0.9"/>
<line x1="638.6500000000001" y1="352.11" x2="638.6500000000001" y2="345.09" stroke="#555" stroke-width="0.9"/><line x1="636.0500000000001" y1="345.09" x2="641.2500000000001" y2="345.09" stroke="#555" stroke-width="0.9"/>
<line x1="638.6500000000001" y1="299.90" x2="638.6500000000001" y2="297.11" stroke="#555" stroke-width="0.9"/><line x1="636.0500000000001" y1="297.11" x2="641.2500000000001" y2="297.11" stroke="#555" stroke-width="0.9"/>
<line x1="638.6500000000001" y1="285.08" x2="638.6500000000001" y2="283.88" stroke="#555" stroke-width="0.9"/><line x1="636.0500000000001" y1="283.88" x2="641.2500000000001" y2="283.88" stroke="#555" stroke-width="0.9"/>
<line x1="522.5" y1="269.5" x2="522.5" y2="364.7" stroke="#444" stroke-width="1.1"/>
<line x1="519.5" y1="364.7" x2="663.5" y2="364.7" stroke="#444" stroke-width="1.1"/>
<line x1="519.3" y1="364.70" x2="522.5" y2="364.70" stroke="#444" stroke-width="1.1"/>
<text x="511.70" y="367.90" font-size="9.2" font-weight="bold" fill="#111" text-anchor="end" textLength="5.35" lengthAdjust="spacingAndGlyphs" stroke="#111" stroke-width="0.28">0</text>
<line x1="519.3" y1="344.77" x2="522.5" y2="344.77" stroke="#444" stroke-width="1.1"/>
<text x="511.70" y="347.97" font-size="9.2" font-weight="bold" fill="#111" text-anchor="end" textLength="10.7" lengthAdjust="spacingAndGlyphs" stroke="#111" stroke-width="0.28">25</text>
<line x1="519.3" y1="324.85" x2="522.5" y2="324.85" stroke="#444" stroke-width="1.1"/>
<text x="511.70" y="328.05" font-size="9.2" font-weight="bold" fill="#111" text-anchor="end" textLength="10.7" lengthAdjust="spacingAndGlyphs" stroke="#111" stroke-width="0.28">50</text>
<line x1="519.3" y1="304.93" x2="522.5" y2="304.93" stroke="#444" stroke-width="1.1"/>
<text x="511.70" y="308.12" font-size="9.2" font-weight="bold" fill="#111" text-anchor="end" textLength="10.7" lengthAdjust="spacingAndGlyphs" stroke="#111" stroke-width="0.28">75</text>
<line x1="519.3" y1="285.00" x2="522.5" y2="285.00" stroke="#444" stroke-width="1.1"/>
<text x="511.70" y="288.20" font-size="9.2" font-weight="bold" fill="#111" text-anchor="end" textLength="16.049999999999997" lengthAdjust="spacingAndGlyphs" stroke="#111" stroke-width="0.28">100</text>
<text x="544.60" y="381.90" font-size="9.8" font-weight="bold" fill="#111" text-anchor="middle" textLength="27.4" lengthAdjust="spacingAndGlyphs" stroke="#111" stroke-width="0.28">DMSO</text>
<text x="591.20" y="381.90" font-size="9.8" font-weight="bold" fill="#111" text-anchor="middle" textLength="13.4" lengthAdjust="spacingAndGlyphs" stroke="#111" stroke-width="0.28">Cis</text>
<text x="638.40" y="381.90" font-size="9.8" font-weight="bold" fill="#111" text-anchor="middle" textLength="14.0" lengthAdjust="spacingAndGlyphs" stroke="#111" stroke-width="0.28">Epi</text>
<text transform="translate(489.0,321.85) rotate(-90)" font-size="11" font-weight="bold" fill="#111" stroke="#111" stroke-width="0.28" text-anchor="middle" textLength="95" lengthAdjust="spacingAndGlyphs">Cell population (%)</text>
<rect x="517.1" y="399.8" width="5.2" height="5.2" fill="#000" stroke="#222" stroke-width="0.8"/>
<text x="524.70" y="405.20" font-size="8.0" font-weight="bold" fill="#111" text-anchor="start" textLength="28.3" lengthAdjust="spacingAndGlyphs" stroke="#111" stroke-width="0.2">Sub G1</text>
<rect x="560.9" y="399.8" width="5.2" height="5.2" fill="#a6a6a6" stroke="#222" stroke-width="0.8"/>
<text x="566.90" y="405.20" font-size="8.0" font-weight="bold" fill="#111" text-anchor="start" textLength="12.2" lengthAdjust="spacingAndGlyphs" stroke="#111" stroke-width="0.2">G1</text>
<rect x="587.1" y="399.8" width="5.2" height="5.2" fill="#fff" stroke="#222" stroke-width="0.8"/>
<text x="593.40" y="405.20" font-size="8.0" font-weight="bold" fill="#111" text-anchor="start" textLength="6.0" lengthAdjust="spacingAndGlyphs" stroke="#111" stroke-width="0.2">S</text>
<rect x="606.5" y="399.8" width="5.2" height="5.2" fill="url(#h2)" stroke="#222" stroke-width="0.8"/>
<text x="612.70" y="405.20" font-size="8.0" font-weight="bold" fill="#111" text-anchor="start" textLength="23.0" lengthAdjust="spacingAndGlyphs" stroke="#111" stroke-width="0.2">G2/M</text>
</svg>
</body></html>
